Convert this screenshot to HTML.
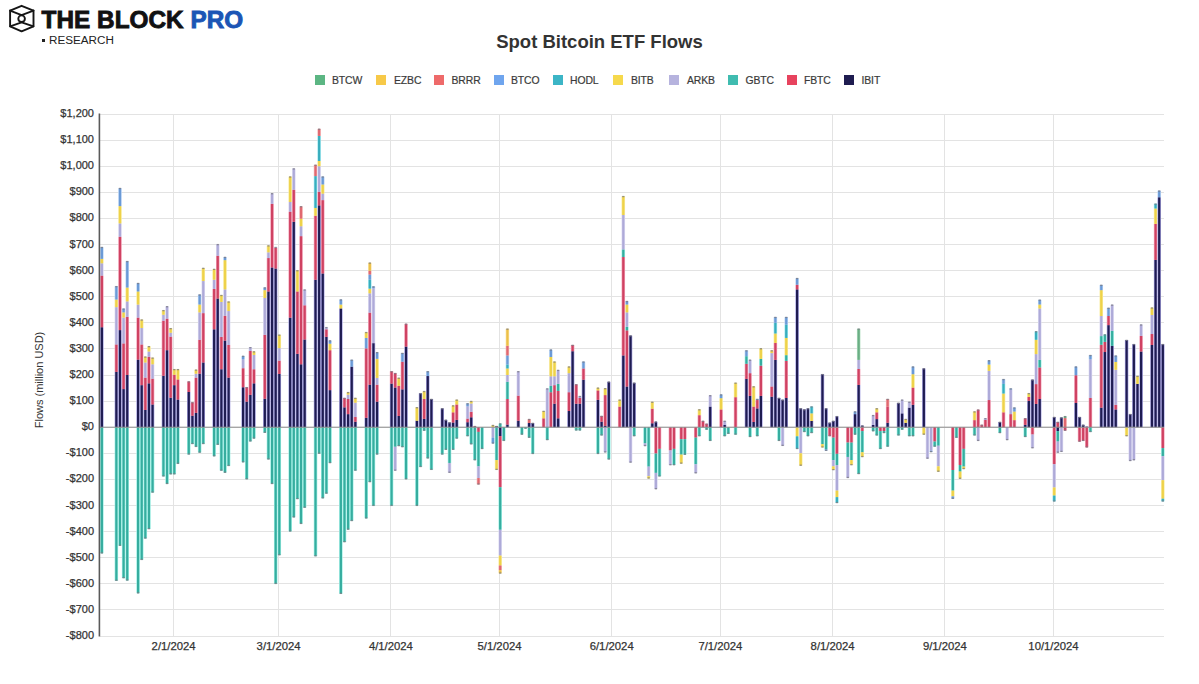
<!DOCTYPE html>
<html><head><meta charset="utf-8"><style>
html,body{margin:0;padding:0;background:#fff;}
body{width:1199px;height:684px;position:relative;overflow:hidden;font-family:"Liberation Sans",sans-serif;}
.logo{position:absolute;left:41.5px;top:5.5px;font-weight:bold;font-size:24.3px;color:#111;letter-spacing:0.05px;white-space:nowrap;-webkit-text-stroke:0.9px #111}
.logo span{color:#1c55b5;-webkit-text-stroke:0.9px #1c55b5}
.res{position:absolute;left:49px;top:33.3px;font-size:11.7px;color:#222;white-space:nowrap}
.bul{position:absolute;left:41.5px;top:39px;width:3px;height:3px;background:#222}
.title{position:absolute;left:0;width:1199px;text-align:center;top:31px;font-weight:bold;font-size:18.5px;color:#333;white-space:nowrap}
.lsq{position:absolute;top:75px;width:10.3px;height:10.3px}
.ltx{position:absolute;top:74.8px;font-size:10.4px;letter-spacing:-0.1px;color:#3a3a3a;-webkit-text-stroke:0.2px #3a3a3a;white-space:nowrap}
.yl{position:absolute;right:1105px;font-size:11px;color:#333;-webkit-text-stroke:0.25px #333;white-space:nowrap;text-align:right}
.xl{position:absolute;top:639.5px;width:80px;text-align:center;font-size:11.3px;color:#333;-webkit-text-stroke:0.25px #333;white-space:nowrap}
.ytitle{position:absolute;left:39px;top:380px;transform:translate(-50%,-50%) rotate(-90deg);font-size:11px;color:#333;white-space:nowrap}
svg{position:absolute;left:0;top:0}
</style></head><body>
<svg width="40" height="40" viewBox="0 0 40 40" style="left:0;top:0">
<g fill="none" stroke="#151515" stroke-width="1.9" stroke-linejoin="round" stroke-linecap="round">
<path d="M21.6 5.8 L33.5 10.6 L33.5 26.3 L21.6 31.3 L10.1 26.3 L10.1 10.6 Z"/>
<path d="M10.1 10.6 L21.6 15.1 L33.5 10.6 M10.1 26.3 L21.6 22.3 L33.5 26.3"/>
<circle cx="21.6" cy="18.7" r="3.3"/>
</g></svg>
<div class="logo">THE BLOCK <span>PRO</span></div>
<div class="bul"></div><div class="res">RESEARCH</div>
<div class="title">Spot Bitcoin ETF Flows</div>
<div class="lsq" style="left:315px;background:#5cb683"></div><div class="ltx" style="left:332px">BTCW</div><div class="lsq" style="left:376px;background:#f7c948"></div><div class="ltx" style="left:394px">EZBC</div><div class="lsq" style="left:434px;background:#ee6a6a"></div><div class="ltx" style="left:451.5px">BRRR</div><div class="lsq" style="left:494px;background:#6fa5ee"></div><div class="ltx" style="left:511px">BTCO</div><div class="lsq" style="left:553px;background:#3cb5c6"></div><div class="ltx" style="left:570px">HODL</div><div class="lsq" style="left:613px;background:#f6d94c"></div><div class="ltx" style="left:631px">BITB</div><div class="lsq" style="left:669px;background:#b6b3de"></div><div class="ltx" style="left:687px">ARKB</div><div class="lsq" style="left:728px;background:#40bcb0"></div><div class="ltx" style="left:745.5px">GBTC</div><div class="lsq" style="left:787px;background:#e7435e"></div><div class="ltx" style="left:804px">FBTC</div><div class="lsq" style="left:844px;background:#1f1c50"></div><div class="ltx" style="left:861.5px">IBIT</div>
<svg width="1199" height="684" viewBox="0 0 1199 684" shape-rendering="crispEdges">
<rect x="100" y="113.50" width="1064" height="1" fill="#e3e3e3"/><rect x="100" y="139.60" width="1064" height="1" fill="#e3e3e3"/><rect x="100" y="165.70" width="1064" height="1" fill="#e3e3e3"/><rect x="100" y="191.80" width="1064" height="1" fill="#e3e3e3"/><rect x="100" y="217.90" width="1064" height="1" fill="#e3e3e3"/><rect x="100" y="244.00" width="1064" height="1" fill="#e3e3e3"/><rect x="100" y="270.10" width="1064" height="1" fill="#e3e3e3"/><rect x="100" y="296.20" width="1064" height="1" fill="#e3e3e3"/><rect x="100" y="322.30" width="1064" height="1" fill="#e3e3e3"/><rect x="100" y="348.40" width="1064" height="1" fill="#e3e3e3"/><rect x="100" y="374.50" width="1064" height="1" fill="#e3e3e3"/><rect x="100" y="400.60" width="1064" height="1" fill="#e3e3e3"/><rect x="100" y="426.70" width="1064" height="1" fill="#e3e3e3"/><rect x="100" y="452.80" width="1064" height="1" fill="#e3e3e3"/><rect x="100" y="478.90" width="1064" height="1" fill="#e3e3e3"/><rect x="100" y="505.00" width="1064" height="1" fill="#e3e3e3"/><rect x="100" y="531.10" width="1064" height="1" fill="#e3e3e3"/><rect x="100" y="557.20" width="1064" height="1" fill="#e3e3e3"/><rect x="100" y="583.30" width="1064" height="1" fill="#e3e3e3"/><rect x="100" y="609.40" width="1064" height="1" fill="#e3e3e3"/><rect x="100" y="635.50" width="1064" height="1" fill="#e3e3e3"/><rect x="173.10" y="113.50" width="1" height="522.00" fill="#e3e3e3"/><rect x="278.11" y="113.50" width="1" height="522.00" fill="#e3e3e3"/><rect x="390.36" y="113.50" width="1" height="522.00" fill="#e3e3e3"/><rect x="498.99" y="113.50" width="1" height="522.00" fill="#e3e3e3"/><rect x="611.24" y="113.50" width="1" height="522.00" fill="#e3e3e3"/><rect x="719.87" y="113.50" width="1" height="522.00" fill="#e3e3e3"/><rect x="832.12" y="113.50" width="1" height="522.00" fill="#e3e3e3"/><rect x="944.37" y="113.50" width="1" height="522.00" fill="#e3e3e3"/><rect x="1053.00" y="113.50" width="1" height="522.00" fill="#e3e3e3"/>
</svg>
<svg width="1199" height="684" viewBox="0 0 1199 684">
<rect x="100.13" y="327.24" width="3.5" height="99.96" fill="#a9a5e2"/><rect x="100.13" y="275.56" width="3.5" height="51.68" fill="#f3a6bb"/><rect x="100.13" y="263.29" width="3.5" height="12.27" fill="#dddbf3"/><rect x="100.13" y="258.86" width="3.5" height="4.44" fill="#f9eca0"/><rect x="100.13" y="247.11" width="3.5" height="11.75" fill="#bcd6f6"/><rect x="100.13" y="427.20" width="3.5" height="126.06" fill="#a0f0e6"/><rect x="114.61" y="371.87" width="3.5" height="55.33" fill="#a9a5e2"/><rect x="114.61" y="344.46" width="3.5" height="27.41" fill="#f3a6bb"/><rect x="114.61" y="307.14" width="3.5" height="37.32" fill="#dddbf3"/><rect x="114.61" y="299.57" width="3.5" height="7.57" fill="#f9eca0"/><rect x="114.61" y="286.26" width="3.5" height="13.31" fill="#bcd6f6"/><rect x="114.61" y="427.20" width="3.5" height="153.47" fill="#a0f0e6"/><rect x="118.24" y="330.11" width="3.5" height="97.09" fill="#a9a5e2"/><rect x="118.24" y="236.67" width="3.5" height="93.44" fill="#f3a6bb"/><rect x="118.24" y="223.36" width="3.5" height="13.31" fill="#dddbf3"/><rect x="118.24" y="206.13" width="3.5" height="17.23" fill="#f9eca0"/><rect x="118.24" y="188.12" width="3.5" height="18.01" fill="#bcd6f6"/><rect x="118.24" y="427.20" width="3.5" height="118.49" fill="#a0f0e6"/><rect x="121.86" y="389.09" width="3.5" height="38.11" fill="#a9a5e2"/><rect x="121.86" y="343.42" width="3.5" height="45.68" fill="#f3a6bb"/><rect x="121.86" y="317.58" width="3.5" height="25.84" fill="#dddbf3"/><rect x="121.86" y="312.36" width="3.5" height="5.22" fill="#f9eca0"/><rect x="121.86" y="308.71" width="3.5" height="3.65" fill="#bcd6f6"/><rect x="121.86" y="427.20" width="3.5" height="150.86" fill="#a0f0e6"/><rect x="125.48" y="375.00" width="3.5" height="52.20" fill="#a9a5e2"/><rect x="125.48" y="316.80" width="3.5" height="58.20" fill="#f3a6bb"/><rect x="125.48" y="301.40" width="3.5" height="15.40" fill="#dddbf3"/><rect x="125.48" y="287.56" width="3.5" height="13.83" fill="#f9eca0"/><rect x="125.48" y="261.20" width="3.5" height="26.36" fill="#bcd6f6"/><rect x="125.48" y="427.20" width="3.5" height="153.21" fill="#a0f0e6"/><rect x="136.34" y="359.60" width="3.5" height="67.60" fill="#a9a5e2"/><rect x="136.34" y="317.58" width="3.5" height="42.02" fill="#f3a6bb"/><rect x="136.34" y="304.53" width="3.5" height="13.05" fill="#dddbf3"/><rect x="136.34" y="291.48" width="3.5" height="13.05" fill="#f9eca0"/><rect x="136.34" y="283.13" width="3.5" height="8.35" fill="#bcd6f6"/><rect x="136.34" y="427.20" width="3.5" height="166.00" fill="#a0f0e6"/><rect x="139.96" y="385.18" width="3.5" height="42.02" fill="#a9a5e2"/><rect x="139.96" y="344.46" width="3.5" height="40.72" fill="#f3a6bb"/><rect x="139.96" y="328.02" width="3.5" height="16.44" fill="#dddbf3"/><rect x="139.96" y="319.67" width="3.5" height="8.35" fill="#f9eca0"/><rect x="139.96" y="427.20" width="3.5" height="132.59" fill="#a0f0e6"/><rect x="143.58" y="409.97" width="3.5" height="17.23" fill="#a9a5e2"/><rect x="143.58" y="377.61" width="3.5" height="32.36" fill="#f3a6bb"/><rect x="143.58" y="362.47" width="3.5" height="15.14" fill="#dddbf3"/><rect x="143.58" y="356.73" width="3.5" height="5.74" fill="#f9eca0"/><rect x="143.58" y="427.20" width="3.5" height="111.19" fill="#a0f0e6"/><rect x="147.20" y="383.35" width="3.5" height="43.85" fill="#a9a5e2"/><rect x="147.20" y="356.73" width="3.5" height="26.62" fill="#f3a6bb"/><rect x="147.20" y="351.51" width="3.5" height="5.22" fill="#dddbf3"/><rect x="147.20" y="346.29" width="3.5" height="5.22" fill="#f9eca0"/><rect x="147.20" y="427.20" width="3.5" height="101.79" fill="#a0f0e6"/><rect x="150.82" y="404.49" width="3.5" height="22.71" fill="#a9a5e2"/><rect x="150.82" y="378.65" width="3.5" height="25.84" fill="#f3a6bb"/><rect x="150.82" y="364.30" width="3.5" height="14.36" fill="#dddbf3"/><rect x="150.82" y="357.77" width="3.5" height="6.52" fill="#f9eca0"/><rect x="150.82" y="427.20" width="3.5" height="65.25" fill="#a0f0e6"/><rect x="161.69" y="375.78" width="3.5" height="51.42" fill="#a9a5e2"/><rect x="161.69" y="320.71" width="3.5" height="55.07" fill="#f3a6bb"/><rect x="161.69" y="314.71" width="3.5" height="6.00" fill="#dddbf3"/><rect x="161.69" y="310.27" width="3.5" height="4.44" fill="#f9eca0"/><rect x="161.69" y="427.20" width="3.5" height="49.07" fill="#a0f0e6"/><rect x="165.31" y="350.20" width="3.5" height="77.00" fill="#a9a5e2"/><rect x="165.31" y="318.62" width="3.5" height="31.58" fill="#f3a6bb"/><rect x="165.31" y="306.36" width="3.5" height="12.27" fill="#dddbf3"/><rect x="165.31" y="427.20" width="3.5" height="56.64" fill="#a0f0e6"/><rect x="168.93" y="397.71" width="3.5" height="29.49" fill="#a9a5e2"/><rect x="168.93" y="336.63" width="3.5" height="61.07" fill="#f3a6bb"/><rect x="168.93" y="332.72" width="3.5" height="3.92" fill="#dddbf3"/><rect x="168.93" y="328.28" width="3.5" height="4.44" fill="#f9eca0"/><rect x="168.93" y="427.20" width="3.5" height="46.98" fill="#a0f0e6"/><rect x="172.55" y="385.18" width="3.5" height="42.02" fill="#a9a5e2"/><rect x="172.55" y="374.74" width="3.5" height="10.44" fill="#f3a6bb"/><rect x="172.55" y="369.26" width="3.5" height="5.48" fill="#f9eca0"/><rect x="172.55" y="427.20" width="3.5" height="46.98" fill="#a0f0e6"/><rect x="176.17" y="399.53" width="3.5" height="27.67" fill="#a9a5e2"/><rect x="176.17" y="379.44" width="3.5" height="20.10" fill="#f3a6bb"/><rect x="176.17" y="369.26" width="3.5" height="10.18" fill="#f9eca0"/><rect x="176.17" y="427.20" width="3.5" height="36.54" fill="#a0f0e6"/><rect x="187.03" y="391.96" width="3.5" height="35.24" fill="#a9a5e2"/><rect x="187.03" y="381.52" width="3.5" height="10.44" fill="#f3a6bb"/><rect x="187.03" y="427.20" width="3.5" height="27.14" fill="#a0f0e6"/><rect x="190.66" y="415.72" width="3.5" height="11.48" fill="#a9a5e2"/><rect x="190.66" y="402.40" width="3.5" height="13.31" fill="#f3a6bb"/><rect x="190.66" y="427.20" width="3.5" height="16.70" fill="#a0f0e6"/><rect x="194.28" y="412.84" width="3.5" height="14.36" fill="#a9a5e2"/><rect x="194.28" y="377.61" width="3.5" height="35.23" fill="#f3a6bb"/><rect x="194.28" y="373.69" width="3.5" height="3.92" fill="#dddbf3"/><rect x="194.28" y="369.78" width="3.5" height="3.92" fill="#f9eca0"/><rect x="194.28" y="427.20" width="3.5" height="19.57" fill="#a0f0e6"/><rect x="197.90" y="373.69" width="3.5" height="53.50" fill="#a9a5e2"/><rect x="197.90" y="339.76" width="3.5" height="33.93" fill="#f3a6bb"/><rect x="197.90" y="312.36" width="3.5" height="27.40" fill="#dddbf3"/><rect x="197.90" y="304.53" width="3.5" height="7.83" fill="#f9eca0"/><rect x="197.90" y="294.61" width="3.5" height="9.92" fill="#bcd6f6"/><rect x="197.90" y="427.20" width="3.5" height="25.32" fill="#a0f0e6"/><rect x="201.52" y="362.47" width="3.5" height="64.73" fill="#a9a5e2"/><rect x="201.52" y="313.14" width="3.5" height="49.33" fill="#f3a6bb"/><rect x="201.52" y="281.04" width="3.5" height="32.10" fill="#dddbf3"/><rect x="201.52" y="267.99" width="3.5" height="13.05" fill="#f9eca0"/><rect x="201.52" y="427.20" width="3.5" height="16.70" fill="#a0f0e6"/><rect x="212.38" y="329.32" width="3.5" height="97.88" fill="#a9a5e2"/><rect x="212.38" y="288.87" width="3.5" height="40.45" fill="#f3a6bb"/><rect x="212.38" y="279.74" width="3.5" height="9.13" fill="#dddbf3"/><rect x="212.38" y="269.03" width="3.5" height="10.70" fill="#f9eca0"/><rect x="212.38" y="427.20" width="3.5" height="28.97" fill="#a0f0e6"/><rect x="216.00" y="298.53" width="3.5" height="128.67" fill="#a9a5e2"/><rect x="216.00" y="255.72" width="3.5" height="42.80" fill="#f3a6bb"/><rect x="216.00" y="244.24" width="3.5" height="11.48" fill="#dddbf3"/><rect x="216.00" y="427.20" width="3.5" height="17.49" fill="#a0f0e6"/><rect x="219.62" y="369.26" width="3.5" height="57.94" fill="#a9a5e2"/><rect x="219.62" y="336.89" width="3.5" height="32.36" fill="#f3a6bb"/><rect x="219.62" y="301.92" width="3.5" height="34.97" fill="#dddbf3"/><rect x="219.62" y="295.13" width="3.5" height="6.79" fill="#f9eca0"/><rect x="219.62" y="427.20" width="3.5" height="43.33" fill="#a0f0e6"/><rect x="223.24" y="340.55" width="3.5" height="86.65" fill="#a9a5e2"/><rect x="223.24" y="315.75" width="3.5" height="24.80" fill="#f3a6bb"/><rect x="223.24" y="289.39" width="3.5" height="26.36" fill="#dddbf3"/><rect x="223.24" y="260.16" width="3.5" height="29.23" fill="#f9eca0"/><rect x="223.24" y="257.03" width="3.5" height="3.13" fill="#bcd6f6"/><rect x="223.24" y="427.20" width="3.5" height="45.41" fill="#a0f0e6"/><rect x="226.87" y="377.61" width="3.5" height="49.59" fill="#a9a5e2"/><rect x="226.87" y="344.99" width="3.5" height="32.62" fill="#f3a6bb"/><rect x="226.87" y="311.05" width="3.5" height="33.93" fill="#dddbf3"/><rect x="226.87" y="301.66" width="3.5" height="9.40" fill="#f9eca0"/><rect x="226.87" y="427.20" width="3.5" height="38.63" fill="#a0f0e6"/><rect x="241.35" y="387.27" width="3.5" height="39.93" fill="#a9a5e2"/><rect x="241.35" y="368.21" width="3.5" height="19.05" fill="#f3a6bb"/><rect x="241.35" y="359.34" width="3.5" height="8.87" fill="#dddbf3"/><rect x="241.35" y="355.95" width="3.5" height="3.39" fill="#bcd6f6"/><rect x="241.35" y="427.20" width="3.5" height="34.97" fill="#a0f0e6"/><rect x="244.97" y="401.62" width="3.5" height="25.58" fill="#a9a5e2"/><rect x="244.97" y="387.27" width="3.5" height="14.36" fill="#f3a6bb"/><rect x="244.97" y="427.20" width="3.5" height="51.94" fill="#a0f0e6"/><rect x="248.59" y="394.84" width="3.5" height="32.36" fill="#a9a5e2"/><rect x="248.59" y="350.99" width="3.5" height="43.85" fill="#f3a6bb"/><rect x="248.59" y="347.33" width="3.5" height="3.65" fill="#dddbf3"/><rect x="248.59" y="427.20" width="3.5" height="14.09" fill="#a0f0e6"/><rect x="252.21" y="383.35" width="3.5" height="43.85" fill="#a9a5e2"/><rect x="252.21" y="369.26" width="3.5" height="14.09" fill="#f3a6bb"/><rect x="252.21" y="354.90" width="3.5" height="14.35" fill="#dddbf3"/><rect x="252.21" y="351.51" width="3.5" height="3.39" fill="#f9eca0"/><rect x="252.21" y="427.20" width="3.5" height="11.22" fill="#a0f0e6"/><rect x="263.08" y="398.75" width="3.5" height="28.45" fill="#a9a5e2"/><rect x="263.08" y="334.81" width="3.5" height="63.94" fill="#f3a6bb"/><rect x="263.08" y="298.00" width="3.5" height="36.80" fill="#dddbf3"/><rect x="263.08" y="290.17" width="3.5" height="7.83" fill="#f9eca0"/><rect x="263.08" y="287.56" width="3.5" height="2.61" fill="#bcd6f6"/><rect x="263.08" y="427.20" width="3.5" height="5.48" fill="#a0f0e6"/><rect x="266.70" y="291.48" width="3.5" height="135.72" fill="#a9a5e2"/><rect x="266.70" y="258.07" width="3.5" height="33.41" fill="#f3a6bb"/><rect x="266.70" y="252.33" width="3.5" height="5.74" fill="#dddbf3"/><rect x="266.70" y="245.54" width="3.5" height="6.79" fill="#f9eca0"/><rect x="266.70" y="427.20" width="3.5" height="32.10" fill="#a0f0e6"/><rect x="270.32" y="267.47" width="3.5" height="159.73" fill="#a9a5e2"/><rect x="270.32" y="203.78" width="3.5" height="63.68" fill="#f3a6bb"/><rect x="270.32" y="193.34" width="3.5" height="10.44" fill="#dddbf3"/><rect x="270.32" y="427.20" width="3.5" height="56.64" fill="#a0f0e6"/><rect x="273.94" y="268.51" width="3.5" height="158.69" fill="#a9a5e2"/><rect x="273.94" y="247.63" width="3.5" height="20.88" fill="#f3a6bb"/><rect x="273.94" y="247.11" width="3.5" height="0.52" fill="#dddbf3"/><rect x="273.94" y="427.20" width="3.5" height="156.60" fill="#a0f0e6"/><rect x="277.56" y="373.96" width="3.5" height="53.24" fill="#a9a5e2"/><rect x="277.56" y="360.64" width="3.5" height="13.31" fill="#f3a6bb"/><rect x="277.56" y="348.12" width="3.5" height="12.53" fill="#dddbf3"/><rect x="277.56" y="334.81" width="3.5" height="13.31" fill="#f9eca0"/><rect x="277.56" y="427.20" width="3.5" height="127.89" fill="#a0f0e6"/><rect x="288.42" y="317.58" width="3.5" height="109.62" fill="#a9a5e2"/><rect x="288.42" y="211.61" width="3.5" height="105.97" fill="#f3a6bb"/><rect x="288.42" y="201.96" width="3.5" height="9.66" fill="#dddbf3"/><rect x="288.42" y="176.64" width="3.5" height="25.32" fill="#f9eca0"/><rect x="288.42" y="427.20" width="3.5" height="104.14" fill="#a0f0e6"/><rect x="292.04" y="221.79" width="3.5" height="205.41" fill="#a9a5e2"/><rect x="292.04" y="189.69" width="3.5" height="32.10" fill="#f3a6bb"/><rect x="292.04" y="168.55" width="3.5" height="21.14" fill="#dddbf3"/><rect x="292.04" y="427.20" width="3.5" height="90.05" fill="#a0f0e6"/><rect x="295.66" y="353.86" width="3.5" height="73.34" fill="#a9a5e2"/><rect x="295.66" y="291.48" width="3.5" height="62.38" fill="#f3a6bb"/><rect x="295.66" y="270.34" width="3.5" height="21.14" fill="#f9eca0"/><rect x="295.66" y="427.20" width="3.5" height="71.78" fill="#a0f0e6"/><rect x="299.29" y="364.30" width="3.5" height="62.90" fill="#a9a5e2"/><rect x="299.29" y="236.15" width="3.5" height="128.15" fill="#f3a6bb"/><rect x="299.29" y="226.23" width="3.5" height="9.92" fill="#dddbf3"/><rect x="299.29" y="218.66" width="3.5" height="7.57" fill="#f9eca0"/><rect x="299.29" y="206.39" width="3.5" height="12.27" fill="#f5b8b8"/><rect x="299.29" y="427.20" width="3.5" height="96.57" fill="#a0f0e6"/><rect x="302.91" y="339.50" width="3.5" height="87.70" fill="#a9a5e2"/><rect x="302.91" y="305.31" width="3.5" height="34.19" fill="#f3a6bb"/><rect x="302.91" y="289.65" width="3.5" height="15.66" fill="#dddbf3"/><rect x="302.91" y="427.20" width="3.5" height="80.39" fill="#a0f0e6"/><rect x="313.77" y="279.74" width="3.5" height="147.46" fill="#a9a5e2"/><rect x="313.77" y="215.79" width="3.5" height="63.95" fill="#f3a6bb"/><rect x="313.77" y="207.96" width="3.5" height="7.83" fill="#f9eca0"/><rect x="313.77" y="176.12" width="3.5" height="31.84" fill="#a0e8f0"/><rect x="313.77" y="164.89" width="3.5" height="11.22" fill="#f5b8b8"/><rect x="313.77" y="427.20" width="3.5" height="128.93" fill="#a0f0e6"/><rect x="317.39" y="205.35" width="3.5" height="221.85" fill="#a9a5e2"/><rect x="317.39" y="191.78" width="3.5" height="13.57" fill="#f3a6bb"/><rect x="317.39" y="166.20" width="3.5" height="25.58" fill="#dddbf3"/><rect x="317.39" y="160.98" width="3.5" height="5.22" fill="#f9eca0"/><rect x="317.39" y="135.92" width="3.5" height="25.06" fill="#a0e8f0"/><rect x="317.39" y="128.88" width="3.5" height="7.05" fill="#f5b8b8"/><rect x="317.39" y="427.20" width="3.5" height="26.36" fill="#a0f0e6"/><rect x="321.01" y="273.47" width="3.5" height="153.73" fill="#a9a5e2"/><rect x="321.01" y="200.13" width="3.5" height="73.34" fill="#f3a6bb"/><rect x="321.01" y="193.60" width="3.5" height="6.52" fill="#dddbf3"/><rect x="321.01" y="184.47" width="3.5" height="9.14" fill="#f9eca0"/><rect x="321.01" y="176.64" width="3.5" height="7.83" fill="#bcd6f6"/><rect x="321.01" y="427.20" width="3.5" height="70.99" fill="#a0f0e6"/><rect x="324.63" y="336.89" width="3.5" height="90.31" fill="#a9a5e2"/><rect x="324.63" y="329.32" width="3.5" height="7.57" fill="#f3a6bb"/><rect x="324.63" y="327.24" width="3.5" height="2.09" fill="#dddbf3"/><rect x="324.63" y="427.20" width="3.5" height="66.29" fill="#a0f0e6"/><rect x="328.25" y="390.14" width="3.5" height="37.06" fill="#a9a5e2"/><rect x="328.25" y="350.20" width="3.5" height="39.93" fill="#f3a6bb"/><rect x="328.25" y="343.68" width="3.5" height="6.53" fill="#f9eca0"/><rect x="328.25" y="340.55" width="3.5" height="3.13" fill="#bcd6f6"/><rect x="328.25" y="427.20" width="3.5" height="35.76" fill="#a0f0e6"/><rect x="339.12" y="308.44" width="3.5" height="118.75" fill="#a9a5e2"/><rect x="339.12" y="304.53" width="3.5" height="3.92" fill="#f9eca0"/><rect x="339.12" y="299.57" width="3.5" height="4.96" fill="#bcd6f6"/><rect x="339.12" y="427.20" width="3.5" height="166.52" fill="#a0f0e6"/><rect x="342.74" y="407.36" width="3.5" height="19.84" fill="#a9a5e2"/><rect x="342.74" y="397.97" width="3.5" height="9.40" fill="#f3a6bb"/><rect x="342.74" y="427.20" width="3.5" height="114.84" fill="#a0f0e6"/><rect x="346.36" y="414.15" width="3.5" height="13.05" fill="#a9a5e2"/><rect x="346.36" y="399.01" width="3.5" height="15.14" fill="#f3a6bb"/><rect x="346.36" y="394.57" width="3.5" height="4.44" fill="#dddbf3"/><rect x="346.36" y="392.23" width="3.5" height="2.35" fill="#f9eca0"/><rect x="346.36" y="427.20" width="3.5" height="102.31" fill="#a0f0e6"/><rect x="349.98" y="366.65" width="3.5" height="60.55" fill="#a9a5e2"/><rect x="349.98" y="359.86" width="3.5" height="6.79" fill="#bcd6f6"/><rect x="349.98" y="427.20" width="3.5" height="93.70" fill="#a0f0e6"/><rect x="353.60" y="421.72" width="3.5" height="5.48" fill="#a9a5e2"/><rect x="353.60" y="417.02" width="3.5" height="4.70" fill="#f3a6bb"/><rect x="353.60" y="402.67" width="3.5" height="14.36" fill="#dddbf3"/><rect x="353.60" y="397.97" width="3.5" height="4.70" fill="#f9eca0"/><rect x="353.60" y="427.20" width="3.5" height="43.33" fill="#a0f0e6"/><rect x="364.46" y="417.80" width="3.5" height="9.40" fill="#a9a5e2"/><rect x="364.46" y="348.38" width="3.5" height="69.43" fill="#f3a6bb"/><rect x="364.46" y="337.94" width="3.5" height="10.44" fill="#bcd6f6"/><rect x="364.46" y="332.20" width="3.5" height="5.74" fill="#f9eca0"/><rect x="364.46" y="427.20" width="3.5" height="91.09" fill="#a0f0e6"/><rect x="368.08" y="384.66" width="3.5" height="42.54" fill="#a9a5e2"/><rect x="368.08" y="312.62" width="3.5" height="72.04" fill="#f3a6bb"/><rect x="368.08" y="293.31" width="3.5" height="19.31" fill="#dddbf3"/><rect x="368.08" y="288.61" width="3.5" height="4.70" fill="#f9eca0"/><rect x="368.08" y="279.74" width="3.5" height="8.87" fill="#a0e8f0"/><rect x="368.08" y="274.51" width="3.5" height="5.22" fill="#bcd6f6"/><rect x="368.08" y="270.60" width="3.5" height="3.91" fill="#f5b8b8"/><rect x="368.08" y="262.77" width="3.5" height="7.83" fill="#fae3a0"/><rect x="368.08" y="427.20" width="3.5" height="54.81" fill="#a0f0e6"/><rect x="371.71" y="343.16" width="3.5" height="84.04" fill="#a9a5e2"/><rect x="371.71" y="288.35" width="3.5" height="54.81" fill="#dddbf3"/><rect x="371.71" y="286.52" width="3.5" height="1.83" fill="#bcd6f6"/><rect x="371.71" y="427.20" width="3.5" height="78.56" fill="#a0f0e6"/><rect x="375.33" y="401.62" width="3.5" height="25.58" fill="#a9a5e2"/><rect x="375.33" y="384.66" width="3.5" height="16.97" fill="#f3a6bb"/><rect x="375.33" y="377.87" width="3.5" height="6.79" fill="#dddbf3"/><rect x="375.33" y="358.82" width="3.5" height="19.05" fill="#f9eca0"/><rect x="375.33" y="352.29" width="3.5" height="6.52" fill="#bcd6f6"/><rect x="375.33" y="427.20" width="3.5" height="27.14" fill="#a0f0e6"/><rect x="389.81" y="383.61" width="3.5" height="43.59" fill="#a9a5e2"/><rect x="389.81" y="371.35" width="3.5" height="12.27" fill="#f3a6bb"/><rect x="389.81" y="427.20" width="3.5" height="78.56" fill="#a0f0e6"/><rect x="393.43" y="387.53" width="3.5" height="39.67" fill="#a9a5e2"/><rect x="393.43" y="373.17" width="3.5" height="14.35" fill="#f3a6bb"/><rect x="393.43" y="427.20" width="3.5" height="19.57" fill="#a0f0e6"/><rect x="393.43" y="446.77" width="3.5" height="23.75" fill="#dddbf3"/><rect x="397.05" y="415.98" width="3.5" height="11.22" fill="#a9a5e2"/><rect x="397.05" y="385.70" width="3.5" height="30.28" fill="#f3a6bb"/><rect x="397.05" y="377.87" width="3.5" height="7.83" fill="#f9eca0"/><rect x="397.05" y="427.20" width="3.5" height="18.79" fill="#a0f0e6"/><rect x="400.67" y="389.36" width="3.5" height="37.84" fill="#a9a5e2"/><rect x="400.67" y="361.69" width="3.5" height="27.67" fill="#f3a6bb"/><rect x="400.67" y="353.08" width="3.5" height="8.61" fill="#bcd6f6"/><rect x="400.67" y="427.20" width="3.5" height="19.84" fill="#a0f0e6"/><rect x="404.29" y="346.55" width="3.5" height="80.65" fill="#a9a5e2"/><rect x="404.29" y="323.84" width="3.5" height="22.71" fill="#f3a6bb"/><rect x="404.29" y="427.20" width="3.5" height="51.94" fill="#a0f0e6"/><rect x="415.16" y="420.68" width="3.5" height="6.52" fill="#a9a5e2"/><rect x="415.16" y="407.36" width="3.5" height="13.31" fill="#f9eca0"/><rect x="415.16" y="427.20" width="3.5" height="78.56" fill="#a0f0e6"/><rect x="418.78" y="393.27" width="3.5" height="33.93" fill="#a9a5e2"/><rect x="418.78" y="427.20" width="3.5" height="39.67" fill="#a0f0e6"/><rect x="422.40" y="418.85" width="3.5" height="8.35" fill="#a9a5e2"/><rect x="422.40" y="399.01" width="3.5" height="19.84" fill="#f3a6bb"/><rect x="422.40" y="391.18" width="3.5" height="7.83" fill="#f9eca0"/><rect x="422.40" y="427.20" width="3.5" height="3.39" fill="#a0f0e6"/><rect x="426.02" y="376.04" width="3.5" height="51.16" fill="#a9a5e2"/><rect x="426.02" y="371.35" width="3.5" height="4.70" fill="#bcd6f6"/><rect x="426.02" y="427.20" width="3.5" height="31.06" fill="#a0f0e6"/><rect x="429.64" y="399.01" width="3.5" height="28.19" fill="#a9a5e2"/><rect x="429.64" y="427.20" width="3.5" height="42.54" fill="#a0f0e6"/><rect x="440.50" y="408.41" width="3.5" height="18.79" fill="#a9a5e2"/><rect x="440.50" y="427.20" width="3.5" height="27.14" fill="#a0f0e6"/><rect x="444.12" y="419.89" width="3.5" height="7.31" fill="#a9a5e2"/><rect x="444.12" y="427.20" width="3.5" height="22.45" fill="#a0f0e6"/><rect x="447.75" y="422.50" width="3.5" height="4.70" fill="#a9a5e2"/><rect x="447.75" y="427.20" width="3.5" height="35.76" fill="#a0f0e6"/><rect x="447.75" y="462.96" width="3.5" height="9.66" fill="#dddbf3"/><rect x="451.37" y="422.50" width="3.5" height="4.70" fill="#a9a5e2"/><rect x="451.37" y="412.32" width="3.5" height="10.18" fill="#f3a6bb"/><rect x="451.37" y="405.54" width="3.5" height="6.79" fill="#f9eca0"/><rect x="451.37" y="427.20" width="3.5" height="22.45" fill="#a0f0e6"/><rect x="454.99" y="419.89" width="3.5" height="7.31" fill="#a9a5e2"/><rect x="454.99" y="404.49" width="3.5" height="15.40" fill="#f3a6bb"/><rect x="454.99" y="399.79" width="3.5" height="4.70" fill="#f9eca0"/><rect x="454.99" y="427.20" width="3.5" height="11.22" fill="#a0f0e6"/><rect x="465.85" y="422.24" width="3.5" height="4.96" fill="#a9a5e2"/><rect x="465.85" y="418.59" width="3.5" height="3.65" fill="#f3a6bb"/><rect x="465.85" y="406.32" width="3.5" height="12.27" fill="#dddbf3"/><rect x="465.85" y="403.45" width="3.5" height="2.87" fill="#bcd6f6"/><rect x="465.85" y="427.20" width="3.5" height="8.87" fill="#a0f0e6"/><rect x="469.47" y="417.28" width="3.5" height="9.92" fill="#a9a5e2"/><rect x="469.47" y="411.80" width="3.5" height="5.48" fill="#f3a6bb"/><rect x="469.47" y="403.45" width="3.5" height="8.35" fill="#dddbf3"/><rect x="469.47" y="401.10" width="3.5" height="2.35" fill="#f9eca0"/><rect x="469.47" y="427.20" width="3.5" height="16.96" fill="#a0f0e6"/><rect x="473.09" y="426.16" width="3.5" height="1.04" fill="#f3a6bb"/><rect x="473.09" y="427.20" width="3.5" height="32.89" fill="#a0f0e6"/><rect x="476.71" y="427.20" width="3.5" height="4.70" fill="#f3a6bb"/><rect x="476.71" y="431.90" width="3.5" height="34.45" fill="#a0f0e6"/><rect x="476.71" y="466.35" width="3.5" height="11.75" fill="#dddbf3"/><rect x="476.71" y="478.09" width="3.5" height="6.26" fill="#f5b8b8"/><rect x="480.34" y="427.20" width="3.5" height="21.66" fill="#a0f0e6"/><rect x="491.20" y="425.11" width="3.5" height="2.09" fill="#f9eca0"/><rect x="491.20" y="427.20" width="3.5" height="10.44" fill="#dddbf3"/><rect x="491.20" y="437.64" width="3.5" height="5.74" fill="#bcd6f6"/><rect x="494.82" y="426.16" width="3.5" height="1.04" fill="#a9a5e2"/><rect x="494.82" y="427.20" width="3.5" height="32.89" fill="#a0f0e6"/><rect x="494.82" y="460.09" width="3.5" height="9.66" fill="#f9eca0"/><rect x="498.44" y="423.55" width="3.5" height="3.65" fill="#a0f0e6"/><rect x="498.44" y="427.20" width="3.5" height="8.87" fill="#a9a5e2"/><rect x="498.44" y="436.07" width="3.5" height="51.16" fill="#f3a6bb"/><rect x="498.44" y="487.23" width="3.5" height="42.54" fill="#a0f0e6"/><rect x="498.44" y="529.77" width="3.5" height="25.84" fill="#dddbf3"/><rect x="498.44" y="555.61" width="3.5" height="9.92" fill="#f9eca0"/><rect x="498.44" y="565.53" width="3.5" height="4.70" fill="#f5b8b8"/><rect x="498.44" y="570.23" width="3.5" height="3.13" fill="#fae3a0"/><rect x="502.06" y="427.20" width="3.5" height="13.57" fill="#a0f0e6"/><rect x="505.68" y="424.59" width="3.5" height="2.61" fill="#a9a5e2"/><rect x="505.68" y="399.01" width="3.5" height="25.58" fill="#f3a6bb"/><rect x="505.68" y="381.79" width="3.5" height="17.23" fill="#a0f0e6"/><rect x="505.68" y="375.00" width="3.5" height="6.79" fill="#dddbf3"/><rect x="505.68" y="368.47" width="3.5" height="6.53" fill="#f9eca0"/><rect x="505.68" y="364.56" width="3.5" height="3.91" fill="#a0e8f0"/><rect x="505.68" y="355.42" width="3.5" height="9.14" fill="#bcd6f6"/><rect x="505.68" y="345.77" width="3.5" height="9.66" fill="#f5b8b8"/><rect x="505.68" y="328.80" width="3.5" height="16.96" fill="#fae3a0"/><rect x="516.55" y="420.68" width="3.5" height="6.52" fill="#a9a5e2"/><rect x="516.55" y="395.62" width="3.5" height="25.06" fill="#f3a6bb"/><rect x="516.55" y="371.35" width="3.5" height="24.27" fill="#dddbf3"/><rect x="520.17" y="427.20" width="3.5" height="7.31" fill="#a0f0e6"/><rect x="523.79" y="427.20" width="3.5" height="1.31" fill="#a0f0e6"/><rect x="527.41" y="423.02" width="3.5" height="4.18" fill="#a9a5e2"/><rect x="527.41" y="419.11" width="3.5" height="3.92" fill="#f5b8b8"/><rect x="527.41" y="427.20" width="3.5" height="10.44" fill="#a0f0e6"/><rect x="531.03" y="423.02" width="3.5" height="4.18" fill="#a9a5e2"/><rect x="531.03" y="427.20" width="3.5" height="26.62" fill="#a0f0e6"/><rect x="541.89" y="418.33" width="3.5" height="8.87" fill="#f3a6bb"/><rect x="541.89" y="411.02" width="3.5" height="7.31" fill="#f9eca0"/><rect x="545.51" y="388.57" width="3.5" height="38.63" fill="#dddbf3"/><rect x="545.51" y="427.20" width="3.5" height="12.79" fill="#a0f0e6"/><rect x="549.13" y="392.23" width="3.5" height="34.97" fill="#f3a6bb"/><rect x="549.13" y="385.96" width="3.5" height="6.26" fill="#a0f0e6"/><rect x="549.13" y="376.31" width="3.5" height="9.66" fill="#dddbf3"/><rect x="549.13" y="356.99" width="3.5" height="19.31" fill="#f9eca0"/><rect x="549.13" y="349.68" width="3.5" height="7.31" fill="#bcd6f6"/><rect x="552.75" y="403.71" width="3.5" height="23.49" fill="#a9a5e2"/><rect x="552.75" y="385.18" width="3.5" height="18.53" fill="#f3a6bb"/><rect x="552.75" y="376.31" width="3.5" height="8.87" fill="#dddbf3"/><rect x="552.75" y="361.69" width="3.5" height="14.62" fill="#f9eca0"/><rect x="556.38" y="418.33" width="3.5" height="8.87" fill="#a9a5e2"/><rect x="556.38" y="390.92" width="3.5" height="27.40" fill="#f3a6bb"/><rect x="556.38" y="383.87" width="3.5" height="7.05" fill="#a0f0e6"/><rect x="556.38" y="370.04" width="3.5" height="13.83" fill="#dddbf3"/><rect x="567.24" y="411.02" width="3.5" height="16.18" fill="#a9a5e2"/><rect x="567.24" y="392.23" width="3.5" height="18.79" fill="#f3a6bb"/><rect x="567.24" y="373.17" width="3.5" height="19.05" fill="#dddbf3"/><rect x="567.24" y="366.65" width="3.5" height="6.53" fill="#f9eca0"/><rect x="570.86" y="351.25" width="3.5" height="75.95" fill="#a9a5e2"/><rect x="570.86" y="344.99" width="3.5" height="6.26" fill="#f3a6bb"/><rect x="574.48" y="403.71" width="3.5" height="23.49" fill="#a9a5e2"/><rect x="574.48" y="384.40" width="3.5" height="19.31" fill="#f3a6bb"/><rect x="574.48" y="427.20" width="3.5" height="3.13" fill="#a0f0e6"/><rect x="578.10" y="403.71" width="3.5" height="23.49" fill="#a9a5e2"/><rect x="578.10" y="397.97" width="3.5" height="5.74" fill="#f3a6bb"/><rect x="578.10" y="396.14" width="3.5" height="1.83" fill="#dddbf3"/><rect x="578.10" y="427.20" width="3.5" height="3.13" fill="#a0f0e6"/><rect x="581.72" y="379.70" width="3.5" height="47.50" fill="#a9a5e2"/><rect x="581.72" y="368.47" width="3.5" height="11.22" fill="#f3a6bb"/><rect x="581.72" y="361.69" width="3.5" height="6.79" fill="#bcd6f6"/><rect x="596.21" y="399.79" width="3.5" height="27.41" fill="#a9a5e2"/><rect x="596.21" y="390.40" width="3.5" height="9.40" fill="#f3a6bb"/><rect x="596.21" y="387.79" width="3.5" height="2.61" fill="#f9eca0"/><rect x="596.21" y="427.20" width="3.5" height="26.62" fill="#a0f0e6"/><rect x="599.83" y="421.72" width="3.5" height="5.48" fill="#a9a5e2"/><rect x="599.83" y="415.98" width="3.5" height="5.74" fill="#f3a6bb"/><rect x="599.83" y="427.20" width="3.5" height="8.09" fill="#a0f0e6"/><rect x="603.45" y="425.89" width="3.5" height="1.31" fill="#a9a5e2"/><rect x="603.45" y="395.10" width="3.5" height="30.80" fill="#f3a6bb"/><rect x="603.45" y="388.31" width="3.5" height="6.79" fill="#f9eca0"/><rect x="603.45" y="427.20" width="3.5" height="25.06" fill="#dddbf3"/><rect x="607.07" y="381.79" width="3.5" height="45.41" fill="#a9a5e2"/><rect x="607.07" y="427.20" width="3.5" height="32.10" fill="#a0f0e6"/><rect x="617.93" y="406.58" width="3.5" height="20.62" fill="#f3a6bb"/><rect x="617.93" y="399.79" width="3.5" height="6.79" fill="#f9eca0"/><rect x="621.55" y="355.42" width="3.5" height="71.78" fill="#a9a5e2"/><rect x="621.55" y="257.03" width="3.5" height="98.40" fill="#f3a6bb"/><rect x="621.55" y="249.46" width="3.5" height="7.57" fill="#a0f0e6"/><rect x="621.55" y="215.01" width="3.5" height="34.45" fill="#dddbf3"/><rect x="621.55" y="196.21" width="3.5" height="18.79" fill="#f9eca0"/><rect x="625.17" y="386.48" width="3.5" height="40.72" fill="#a9a5e2"/><rect x="625.17" y="330.37" width="3.5" height="56.12" fill="#f3a6bb"/><rect x="625.17" y="326.71" width="3.5" height="3.65" fill="#a0f0e6"/><rect x="625.17" y="312.36" width="3.5" height="14.35" fill="#dddbf3"/><rect x="625.17" y="304.53" width="3.5" height="7.83" fill="#f9eca0"/><rect x="625.17" y="301.14" width="3.5" height="3.39" fill="#bcd6f6"/><rect x="628.80" y="335.59" width="3.5" height="91.61" fill="#a9a5e2"/><rect x="628.80" y="427.20" width="3.5" height="35.24" fill="#dddbf3"/><rect x="632.42" y="382.83" width="3.5" height="44.37" fill="#a9a5e2"/><rect x="632.42" y="427.20" width="3.5" height="8.87" fill="#a0f0e6"/><rect x="643.28" y="427.20" width="3.5" height="16.18" fill="#a0f0e6"/><rect x="643.28" y="443.38" width="3.5" height="2.61" fill="#dddbf3"/><rect x="646.90" y="427.20" width="3.5" height="39.41" fill="#a0f0e6"/><rect x="646.90" y="466.61" width="3.5" height="9.66" fill="#dddbf3"/><rect x="646.90" y="476.27" width="3.5" height="2.09" fill="#f9eca0"/><rect x="650.52" y="423.28" width="3.5" height="3.92" fill="#a9a5e2"/><rect x="650.52" y="408.67" width="3.5" height="14.62" fill="#f3a6bb"/><rect x="650.52" y="401.88" width="3.5" height="6.79" fill="#f9eca0"/><rect x="654.14" y="421.72" width="3.5" height="5.48" fill="#a9a5e2"/><rect x="654.14" y="427.20" width="3.5" height="26.36" fill="#f3a6bb"/><rect x="654.14" y="453.56" width="3.5" height="19.31" fill="#a0f0e6"/><rect x="654.14" y="472.88" width="3.5" height="16.18" fill="#dddbf3"/><rect x="657.76" y="427.20" width="3.5" height="21.66" fill="#f3a6bb"/><rect x="657.76" y="448.86" width="3.5" height="27.40" fill="#a0f0e6"/><rect x="668.63" y="427.20" width="3.5" height="23.23" fill="#f3a6bb"/><rect x="668.63" y="450.43" width="3.5" height="14.62" fill="#dddbf3"/><rect x="672.25" y="427.20" width="3.5" height="21.66" fill="#f3a6bb"/><rect x="672.25" y="448.86" width="3.5" height="16.18" fill="#a0f0e6"/><rect x="679.49" y="427.20" width="3.5" height="12.01" fill="#f3a6bb"/><rect x="679.49" y="439.21" width="3.5" height="15.40" fill="#a0f0e6"/><rect x="679.49" y="454.61" width="3.5" height="8.87" fill="#f9eca0"/><rect x="683.11" y="427.20" width="3.5" height="12.01" fill="#f3a6bb"/><rect x="683.11" y="439.21" width="3.5" height="15.40" fill="#a0f0e6"/><rect x="693.97" y="427.20" width="3.5" height="10.44" fill="#f3a6bb"/><rect x="693.97" y="437.64" width="3.5" height="26.62" fill="#a0f0e6"/><rect x="693.97" y="464.26" width="3.5" height="8.87" fill="#dddbf3"/><rect x="697.60" y="415.19" width="3.5" height="12.01" fill="#f3a6bb"/><rect x="697.60" y="409.45" width="3.5" height="5.74" fill="#f9eca0"/><rect x="697.60" y="427.20" width="3.5" height="8.87" fill="#a0f0e6"/><rect x="701.22" y="420.94" width="3.5" height="6.26" fill="#f3a6bb"/><rect x="704.84" y="423.81" width="3.5" height="3.39" fill="#f3a6bb"/><rect x="704.84" y="427.20" width="3.5" height="2.35" fill="#a0f0e6"/><rect x="708.46" y="406.58" width="3.5" height="20.62" fill="#a9a5e2"/><rect x="708.46" y="395.36" width="3.5" height="11.22" fill="#dddbf3"/><rect x="708.46" y="427.20" width="3.5" height="13.57" fill="#a0f0e6"/><rect x="719.32" y="409.45" width="3.5" height="17.75" fill="#f3a6bb"/><rect x="719.32" y="398.23" width="3.5" height="11.22" fill="#f9eca0"/><rect x="719.32" y="394.57" width="3.5" height="3.65" fill="#bcd6f6"/><rect x="722.94" y="424.85" width="3.5" height="2.35" fill="#a9a5e2"/><rect x="722.94" y="420.94" width="3.5" height="3.92" fill="#dddbf3"/><rect x="722.94" y="427.20" width="3.5" height="8.87" fill="#a0f0e6"/><rect x="726.56" y="427.20" width="3.5" height="6.52" fill="#a0f0e6"/><rect x="733.81" y="397.19" width="3.5" height="30.01" fill="#f3a6bb"/><rect x="733.81" y="382.83" width="3.5" height="14.36" fill="#f9eca0"/><rect x="733.81" y="427.20" width="3.5" height="7.31" fill="#a0f0e6"/><rect x="744.67" y="378.91" width="3.5" height="48.29" fill="#a9a5e2"/><rect x="744.67" y="363.78" width="3.5" height="15.14" fill="#f3a6bb"/><rect x="744.67" y="356.21" width="3.5" height="7.57" fill="#a0f0e6"/><rect x="744.67" y="350.47" width="3.5" height="5.74" fill="#bcd6f6"/><rect x="748.29" y="395.88" width="3.5" height="31.32" fill="#a9a5e2"/><rect x="748.29" y="373.17" width="3.5" height="22.71" fill="#f3a6bb"/><rect x="748.29" y="359.86" width="3.5" height="13.31" fill="#dddbf3"/><rect x="748.29" y="427.20" width="3.5" height="9.66" fill="#a0f0e6"/><rect x="751.91" y="421.98" width="3.5" height="5.22" fill="#a9a5e2"/><rect x="751.91" y="406.58" width="3.5" height="15.40" fill="#f3a6bb"/><rect x="751.91" y="386.48" width="3.5" height="20.10" fill="#f9eca0"/><rect x="755.53" y="408.41" width="3.5" height="18.79" fill="#a9a5e2"/><rect x="755.53" y="400.06" width="3.5" height="8.35" fill="#f3a6bb"/><rect x="755.53" y="399.01" width="3.5" height="1.04" fill="#bcd6f6"/><rect x="755.53" y="427.20" width="3.5" height="8.87" fill="#a0f0e6"/><rect x="759.15" y="395.88" width="3.5" height="31.32" fill="#a9a5e2"/><rect x="759.15" y="365.60" width="3.5" height="30.28" fill="#f3a6bb"/><rect x="759.15" y="358.82" width="3.5" height="6.79" fill="#a0f0e6"/><rect x="759.15" y="348.38" width="3.5" height="10.44" fill="#f9eca0"/><rect x="770.02" y="396.66" width="3.5" height="30.54" fill="#a9a5e2"/><rect x="770.02" y="386.48" width="3.5" height="10.18" fill="#f3a6bb"/><rect x="770.02" y="353.08" width="3.5" height="33.41" fill="#dddbf3"/><rect x="770.02" y="350.47" width="3.5" height="2.61" fill="#f9eca0"/><rect x="773.64" y="359.86" width="3.5" height="67.34" fill="#a9a5e2"/><rect x="773.64" y="342.90" width="3.5" height="16.96" fill="#f3a6bb"/><rect x="773.64" y="333.50" width="3.5" height="9.40" fill="#f9eca0"/><rect x="773.64" y="322.80" width="3.5" height="10.70" fill="#a0e8f0"/><rect x="773.64" y="317.06" width="3.5" height="5.74" fill="#bcd6f6"/><rect x="777.26" y="397.97" width="3.5" height="29.23" fill="#a9a5e2"/><rect x="777.26" y="427.20" width="3.5" height="13.57" fill="#a0f0e6"/><rect x="780.88" y="399.79" width="3.5" height="27.41" fill="#a9a5e2"/><rect x="780.88" y="427.20" width="3.5" height="18.53" fill="#dddbf3"/><rect x="784.50" y="397.97" width="3.5" height="29.23" fill="#a9a5e2"/><rect x="784.50" y="360.91" width="3.5" height="37.06" fill="#f3a6bb"/><rect x="784.50" y="355.16" width="3.5" height="5.74" fill="#a0f0e6"/><rect x="784.50" y="337.94" width="3.5" height="17.23" fill="#f9eca0"/><rect x="784.50" y="324.63" width="3.5" height="13.31" fill="#a0e8f0"/><rect x="784.50" y="317.06" width="3.5" height="7.57" fill="#bcd6f6"/><rect x="795.36" y="289.39" width="3.5" height="137.81" fill="#a9a5e2"/><rect x="795.36" y="284.69" width="3.5" height="4.70" fill="#f3a6bb"/><rect x="795.36" y="278.17" width="3.5" height="6.52" fill="#bcd6f6"/><rect x="795.36" y="427.20" width="3.5" height="9.13" fill="#f9eca0"/><rect x="795.36" y="436.33" width="3.5" height="12.53" fill="#a0e8f0"/><rect x="798.98" y="408.41" width="3.5" height="18.79" fill="#a9a5e2"/><rect x="798.98" y="427.20" width="3.5" height="26.10" fill="#dddbf3"/><rect x="798.98" y="453.30" width="3.5" height="12.27" fill="#f9eca0"/><rect x="802.60" y="409.45" width="3.5" height="17.75" fill="#a9a5e2"/><rect x="802.60" y="427.20" width="3.5" height="4.70" fill="#a0f0e6"/><rect x="806.22" y="408.41" width="3.5" height="18.79" fill="#a9a5e2"/><rect x="806.22" y="427.20" width="3.5" height="8.87" fill="#a0f0e6"/><rect x="809.85" y="420.94" width="3.5" height="6.26" fill="#a9a5e2"/><rect x="809.85" y="413.37" width="3.5" height="7.57" fill="#f9eca0"/><rect x="809.85" y="406.58" width="3.5" height="6.79" fill="#a0e8f0"/><rect x="809.85" y="427.20" width="3.5" height="5.74" fill="#a0f0e6"/><rect x="820.71" y="374.22" width="3.5" height="52.98" fill="#a9a5e2"/><rect x="820.71" y="427.20" width="3.5" height="16.96" fill="#a0f0e6"/><rect x="820.71" y="444.16" width="3.5" height="3.13" fill="#f9eca0"/><rect x="824.33" y="408.41" width="3.5" height="18.79" fill="#a9a5e2"/><rect x="824.33" y="427.20" width="3.5" height="22.19" fill="#a0f0e6"/><rect x="824.33" y="449.38" width="3.5" height="1.31" fill="#bcd6f6"/><rect x="827.95" y="422.76" width="3.5" height="4.44" fill="#a9a5e2"/><rect x="827.95" y="427.20" width="3.5" height="8.87" fill="#f3a6bb"/><rect x="831.57" y="420.94" width="3.5" height="6.26" fill="#a9a5e2"/><rect x="831.57" y="427.20" width="3.5" height="10.44" fill="#f3a6bb"/><rect x="831.57" y="437.64" width="3.5" height="22.45" fill="#a0f0e6"/><rect x="831.57" y="460.09" width="3.5" height="6.26" fill="#dddbf3"/><rect x="831.57" y="466.35" width="3.5" height="3.65" fill="#f9eca0"/><rect x="835.19" y="416.24" width="3.5" height="10.96" fill="#a9a5e2"/><rect x="835.19" y="427.20" width="3.5" height="26.62" fill="#f3a6bb"/><rect x="835.19" y="453.82" width="3.5" height="11.22" fill="#a0f0e6"/><rect x="835.19" y="465.04" width="3.5" height="25.58" fill="#dddbf3"/><rect x="835.19" y="490.62" width="3.5" height="6.53" fill="#f9eca0"/><rect x="835.19" y="497.15" width="3.5" height="5.74" fill="#a0e8f0"/><rect x="846.06" y="427.20" width="3.5" height="15.40" fill="#f3a6bb"/><rect x="846.06" y="442.60" width="3.5" height="14.36" fill="#a0f0e6"/><rect x="846.06" y="456.95" width="3.5" height="20.88" fill="#dddbf3"/><rect x="849.68" y="427.20" width="3.5" height="15.40" fill="#f3a6bb"/><rect x="849.68" y="442.60" width="3.5" height="17.49" fill="#a0f0e6"/><rect x="849.68" y="460.09" width="3.5" height="4.96" fill="#f9eca0"/><rect x="853.30" y="414.15" width="3.5" height="13.05" fill="#a9a5e2"/><rect x="853.30" y="411.54" width="3.5" height="2.61" fill="#bcd6f6"/><rect x="853.30" y="427.20" width="3.5" height="7.31" fill="#a0f0e6"/><rect x="856.92" y="384.92" width="3.5" height="42.28" fill="#a9a5e2"/><rect x="856.92" y="369.00" width="3.5" height="15.92" fill="#f3a6bb"/><rect x="856.92" y="359.86" width="3.5" height="9.13" fill="#dddbf3"/><rect x="856.92" y="328.80" width="3.5" height="31.06" fill="#b5e0c3"/><rect x="856.92" y="427.20" width="3.5" height="46.72" fill="#a0f0e6"/><rect x="860.54" y="425.63" width="3.5" height="1.57" fill="#a9a5e2"/><rect x="860.54" y="427.20" width="3.5" height="3.92" fill="#f3a6bb"/><rect x="860.54" y="431.12" width="3.5" height="21.14" fill="#a0f0e6"/><rect x="860.54" y="452.26" width="3.5" height="4.70" fill="#f9eca0"/><rect x="871.40" y="424.85" width="3.5" height="2.35" fill="#a9a5e2"/><rect x="871.40" y="415.19" width="3.5" height="9.66" fill="#dddbf3"/><rect x="871.40" y="427.20" width="3.5" height="3.92" fill="#a0f0e6"/><rect x="875.02" y="419.11" width="3.5" height="8.09" fill="#a9a5e2"/><rect x="875.02" y="412.32" width="3.5" height="6.79" fill="#f3a6bb"/><rect x="875.02" y="408.41" width="3.5" height="3.91" fill="#f9eca0"/><rect x="875.02" y="427.20" width="3.5" height="8.09" fill="#a0f0e6"/><rect x="878.64" y="427.20" width="3.5" height="3.92" fill="#f3a6bb"/><rect x="878.64" y="431.12" width="3.5" height="17.75" fill="#a0f0e6"/><rect x="882.27" y="427.20" width="3.5" height="3.92" fill="#f3a6bb"/><rect x="882.27" y="431.12" width="3.5" height="1.83" fill="#a0f0e6"/><rect x="885.89" y="422.76" width="3.5" height="4.44" fill="#a9a5e2"/><rect x="885.89" y="406.58" width="3.5" height="16.18" fill="#f3a6bb"/><rect x="885.89" y="399.01" width="3.5" height="7.57" fill="#f5b8b8"/><rect x="885.89" y="427.20" width="3.5" height="19.31" fill="#a0f0e6"/><rect x="896.75" y="402.93" width="3.5" height="24.27" fill="#a9a5e2"/><rect x="896.75" y="427.20" width="3.5" height="8.09" fill="#a0f0e6"/><rect x="900.37" y="413.37" width="3.5" height="13.83" fill="#a9a5e2"/><rect x="900.37" y="399.79" width="3.5" height="13.57" fill="#dddbf3"/><rect x="900.37" y="427.20" width="3.5" height="2.35" fill="#a0f0e6"/><rect x="903.99" y="422.76" width="3.5" height="4.44" fill="#a9a5e2"/><rect x="903.99" y="419.11" width="3.5" height="3.65" fill="#f9eca0"/><rect x="907.61" y="407.62" width="3.5" height="19.57" fill="#a9a5e2"/><rect x="907.61" y="401.88" width="3.5" height="5.74" fill="#dddbf3"/><rect x="907.61" y="427.20" width="3.5" height="8.87" fill="#a0f0e6"/><rect x="911.23" y="404.75" width="3.5" height="22.45" fill="#a9a5e2"/><rect x="911.23" y="387.53" width="3.5" height="17.23" fill="#f3a6bb"/><rect x="911.23" y="374.22" width="3.5" height="13.31" fill="#f9eca0"/><rect x="911.23" y="366.65" width="3.5" height="7.57" fill="#bcd6f6"/><rect x="911.23" y="427.20" width="3.5" height="8.87" fill="#a0f0e6"/><rect x="922.10" y="368.47" width="3.5" height="58.73" fill="#a9a5e2"/><rect x="922.10" y="427.20" width="3.5" height="7.31" fill="#f9eca0"/><rect x="925.72" y="427.20" width="3.5" height="31.32" fill="#dddbf3"/><rect x="929.34" y="427.20" width="3.5" height="23.49" fill="#dddbf3"/><rect x="929.34" y="450.69" width="3.5" height="1.31" fill="#bcd6f6"/><rect x="932.96" y="427.20" width="3.5" height="14.36" fill="#f3a6bb"/><rect x="932.96" y="441.56" width="3.5" height="4.96" fill="#a0f0e6"/><rect x="936.58" y="427.20" width="3.5" height="18.53" fill="#a0f0e6"/><rect x="936.58" y="445.73" width="3.5" height="20.62" fill="#dddbf3"/><rect x="936.58" y="466.35" width="3.5" height="5.22" fill="#f9eca0"/><rect x="951.07" y="427.20" width="3.5" height="42.80" fill="#f3a6bb"/><rect x="951.07" y="470.00" width="3.5" height="20.62" fill="#a0f0e6"/><rect x="951.07" y="490.62" width="3.5" height="5.74" fill="#f9eca0"/><rect x="951.07" y="496.37" width="3.5" height="2.35" fill="#bcd6f6"/><rect x="954.69" y="427.20" width="3.5" height="10.44" fill="#a0f0e6"/><rect x="958.31" y="427.20" width="3.5" height="37.84" fill="#f3a6bb"/><rect x="958.31" y="465.04" width="3.5" height="6.53" fill="#a0f0e6"/><rect x="958.31" y="471.57" width="3.5" height="7.05" fill="#f9eca0"/><rect x="961.93" y="427.20" width="3.5" height="21.66" fill="#f3a6bb"/><rect x="961.93" y="448.86" width="3.5" height="17.75" fill="#a0f0e6"/><rect x="961.93" y="466.61" width="3.5" height="2.35" fill="#f9eca0"/><rect x="972.79" y="420.15" width="3.5" height="7.05" fill="#f3a6bb"/><rect x="972.79" y="411.54" width="3.5" height="8.61" fill="#f9eca0"/><rect x="972.79" y="427.20" width="3.5" height="8.09" fill="#a0f0e6"/><rect x="976.41" y="409.71" width="3.5" height="17.49" fill="#f3a6bb"/><rect x="976.41" y="427.20" width="3.5" height="13.57" fill="#dddbf3"/><rect x="980.03" y="424.85" width="3.5" height="2.35" fill="#f3a6bb"/><rect x="983.65" y="419.89" width="3.5" height="7.31" fill="#f3a6bb"/><rect x="983.65" y="418.33" width="3.5" height="1.57" fill="#dddbf3"/><rect x="987.28" y="400.06" width="3.5" height="27.14" fill="#f3a6bb"/><rect x="987.28" y="370.82" width="3.5" height="29.23" fill="#dddbf3"/><rect x="987.28" y="364.56" width="3.5" height="6.26" fill="#f9eca0"/><rect x="987.28" y="360.38" width="3.5" height="4.18" fill="#bcd6f6"/><rect x="998.14" y="421.98" width="3.5" height="5.22" fill="#a9a5e2"/><rect x="998.14" y="427.20" width="3.5" height="5.74" fill="#a0f0e6"/><rect x="1001.76" y="412.32" width="3.5" height="14.88" fill="#f3a6bb"/><rect x="1001.76" y="393.53" width="3.5" height="18.79" fill="#f9eca0"/><rect x="1001.76" y="383.87" width="3.5" height="9.66" fill="#a0e8f0"/><rect x="1001.76" y="379.18" width="3.5" height="4.70" fill="#bcd6f6"/><rect x="1005.38" y="427.20" width="3.5" height="12.79" fill="#dddbf3"/><rect x="1009.00" y="414.15" width="3.5" height="13.05" fill="#f3a6bb"/><rect x="1009.00" y="389.62" width="3.5" height="24.53" fill="#dddbf3"/><rect x="1009.00" y="388.57" width="3.5" height="1.04" fill="#bcd6f6"/><rect x="1012.62" y="420.15" width="3.5" height="7.05" fill="#f3a6bb"/><rect x="1012.62" y="411.54" width="3.5" height="8.61" fill="#f9eca0"/><rect x="1012.62" y="407.62" width="3.5" height="3.91" fill="#bcd6f6"/><rect x="1023.48" y="424.85" width="3.5" height="2.35" fill="#a9a5e2"/><rect x="1023.48" y="418.33" width="3.5" height="6.53" fill="#f3a6bb"/><rect x="1023.48" y="427.20" width="3.5" height="9.66" fill="#a0f0e6"/><rect x="1027.11" y="400.84" width="3.5" height="26.36" fill="#a9a5e2"/><rect x="1027.11" y="396.92" width="3.5" height="3.92" fill="#f3a6bb"/><rect x="1027.11" y="393.27" width="3.5" height="3.65" fill="#f9eca0"/><rect x="1030.73" y="379.70" width="3.5" height="47.50" fill="#a9a5e2"/><rect x="1030.73" y="427.20" width="3.5" height="7.31" fill="#f3a6bb"/><rect x="1030.73" y="434.51" width="3.5" height="13.57" fill="#dddbf3"/><rect x="1034.35" y="403.97" width="3.5" height="23.23" fill="#a9a5e2"/><rect x="1034.35" y="384.13" width="3.5" height="19.84" fill="#f3a6bb"/><rect x="1034.35" y="354.12" width="3.5" height="30.01" fill="#dddbf3"/><rect x="1034.35" y="339.76" width="3.5" height="14.36" fill="#f9eca0"/><rect x="1034.35" y="331.41" width="3.5" height="8.35" fill="#a0e8f0"/><rect x="1037.97" y="399.01" width="3.5" height="28.19" fill="#a9a5e2"/><rect x="1037.97" y="367.43" width="3.5" height="31.58" fill="#f3a6bb"/><rect x="1037.97" y="359.86" width="3.5" height="7.57" fill="#a0f0e6"/><rect x="1037.97" y="308.44" width="3.5" height="51.42" fill="#dddbf3"/><rect x="1037.97" y="304.53" width="3.5" height="3.92" fill="#f9eca0"/><rect x="1037.97" y="299.83" width="3.5" height="4.70" fill="#bcd6f6"/><rect x="1052.45" y="417.02" width="3.5" height="10.18" fill="#a9a5e2"/><rect x="1052.45" y="427.20" width="3.5" height="37.06" fill="#f3a6bb"/><rect x="1052.45" y="464.26" width="3.5" height="23.23" fill="#dddbf3"/><rect x="1052.45" y="487.49" width="3.5" height="8.09" fill="#f9eca0"/><rect x="1052.45" y="495.58" width="3.5" height="5.74" fill="#a0e8f0"/><rect x="1056.07" y="421.98" width="3.5" height="5.22" fill="#f3a6bb"/><rect x="1056.07" y="427.20" width="3.5" height="3.92" fill="#a9a5e2"/><rect x="1056.07" y="431.12" width="3.5" height="10.44" fill="#a0f0e6"/><rect x="1056.07" y="441.56" width="3.5" height="10.96" fill="#dddbf3"/><rect x="1059.69" y="417.54" width="3.5" height="9.66" fill="#a9a5e2"/><rect x="1059.69" y="427.20" width="3.5" height="24.53" fill="#dddbf3"/><rect x="1063.32" y="418.06" width="3.5" height="9.13" fill="#f5b8b8"/><rect x="1063.32" y="416.24" width="3.5" height="1.83" fill="#b5e0c3"/><rect x="1063.32" y="427.20" width="3.5" height="3.39" fill="#f3a6bb"/><rect x="1074.18" y="402.93" width="3.5" height="24.27" fill="#a9a5e2"/><rect x="1074.18" y="375.26" width="3.5" height="27.67" fill="#f3a6bb"/><rect x="1074.18" y="366.65" width="3.5" height="8.61" fill="#bcd6f6"/><rect x="1077.80" y="417.02" width="3.5" height="10.18" fill="#a9a5e2"/><rect x="1077.80" y="427.20" width="3.5" height="14.36" fill="#f3a6bb"/><rect x="1081.42" y="424.85" width="3.5" height="2.35" fill="#a9a5e2"/><rect x="1081.42" y="427.20" width="3.5" height="13.57" fill="#f3a6bb"/><rect x="1085.04" y="426.68" width="3.5" height="0.52" fill="#a9a5e2"/><rect x="1085.04" y="427.20" width="3.5" height="20.10" fill="#f3a6bb"/><rect x="1088.66" y="397.97" width="3.5" height="29.23" fill="#f3a6bb"/><rect x="1088.66" y="359.34" width="3.5" height="38.63" fill="#dddbf3"/><rect x="1088.66" y="355.16" width="3.5" height="4.18" fill="#bcd6f6"/><rect x="1088.66" y="427.20" width="3.5" height="4.70" fill="#a0f0e6"/><rect x="1099.53" y="407.62" width="3.5" height="19.57" fill="#a9a5e2"/><rect x="1099.53" y="344.72" width="3.5" height="62.90" fill="#f3a6bb"/><rect x="1099.53" y="336.11" width="3.5" height="8.61" fill="#a0f0e6"/><rect x="1099.53" y="316.01" width="3.5" height="20.10" fill="#dddbf3"/><rect x="1099.53" y="290.17" width="3.5" height="25.84" fill="#f9eca0"/><rect x="1099.53" y="284.95" width="3.5" height="5.22" fill="#bcd6f6"/><rect x="1103.15" y="352.03" width="3.5" height="75.17" fill="#a9a5e2"/><rect x="1103.15" y="341.85" width="3.5" height="10.18" fill="#f3a6bb"/><rect x="1103.15" y="334.54" width="3.5" height="7.31" fill="#a0f0e6"/><rect x="1106.77" y="325.15" width="3.5" height="102.05" fill="#a9a5e2"/><rect x="1106.77" y="316.01" width="3.5" height="9.13" fill="#f3a6bb"/><rect x="1106.77" y="307.92" width="3.5" height="8.09" fill="#bcd6f6"/><rect x="1110.39" y="345.77" width="3.5" height="81.43" fill="#a9a5e2"/><rect x="1110.39" y="330.89" width="3.5" height="14.88" fill="#a0f0e6"/><rect x="1110.39" y="304.79" width="3.5" height="26.10" fill="#dddbf3"/><rect x="1114.01" y="409.45" width="3.5" height="17.75" fill="#a9a5e2"/><rect x="1114.01" y="404.75" width="3.5" height="4.70" fill="#f3a6bb"/><rect x="1114.01" y="369.78" width="3.5" height="34.97" fill="#dddbf3"/><rect x="1114.01" y="361.95" width="3.5" height="7.83" fill="#f9eca0"/><rect x="1114.01" y="355.69" width="3.5" height="6.26" fill="#bcd6f6"/><rect x="1124.87" y="340.03" width="3.5" height="87.17" fill="#a9a5e2"/><rect x="1124.87" y="427.20" width="3.5" height="8.87" fill="#f9eca0"/><rect x="1128.49" y="414.15" width="3.5" height="13.05" fill="#a9a5e2"/><rect x="1128.49" y="427.20" width="3.5" height="33.67" fill="#dddbf3"/><rect x="1132.12" y="344.20" width="3.5" height="83.00" fill="#a9a5e2"/><rect x="1132.12" y="427.20" width="3.5" height="32.89" fill="#dddbf3"/><rect x="1135.74" y="383.87" width="3.5" height="43.33" fill="#a9a5e2"/><rect x="1135.74" y="376.04" width="3.5" height="7.83" fill="#f9eca0"/><rect x="1139.36" y="351.51" width="3.5" height="75.69" fill="#a9a5e2"/><rect x="1139.36" y="335.85" width="3.5" height="15.66" fill="#f3a6bb"/><rect x="1139.36" y="324.63" width="3.5" height="11.22" fill="#dddbf3"/><rect x="1150.22" y="344.99" width="3.5" height="82.21" fill="#a9a5e2"/><rect x="1150.22" y="334.02" width="3.5" height="10.96" fill="#f3a6bb"/><rect x="1150.22" y="314.97" width="3.5" height="19.05" fill="#dddbf3"/><rect x="1150.22" y="307.66" width="3.5" height="7.31" fill="#f9eca0"/><rect x="1153.84" y="259.90" width="3.5" height="167.30" fill="#a9a5e2"/><rect x="1153.84" y="223.88" width="3.5" height="36.02" fill="#f3a6bb"/><rect x="1153.84" y="208.48" width="3.5" height="15.40" fill="#f9eca0"/><rect x="1153.84" y="203.78" width="3.5" height="4.70" fill="#a0e8f0"/><rect x="1157.46" y="197.26" width="3.5" height="229.94" fill="#a9a5e2"/><rect x="1157.46" y="190.73" width="3.5" height="6.53" fill="#bcd6f6"/><rect x="1161.08" y="344.20" width="3.5" height="83.00" fill="#a9a5e2"/><rect x="1161.08" y="427.20" width="3.5" height="20.88" fill="#f3a6bb"/><rect x="1161.08" y="448.08" width="3.5" height="8.09" fill="#a0f0e6"/><rect x="1161.08" y="456.17" width="3.5" height="24.01" fill="#dddbf3"/><rect x="1161.08" y="480.18" width="3.5" height="18.53" fill="#f9eca0"/><rect x="1161.08" y="498.71" width="3.5" height="2.61" fill="#a0e8f0"/><rect x="100.78" y="327.24" width="2.2" height="99.96" fill="#1f1c52"/><rect x="100.78" y="275.56" width="2.2" height="51.68" fill="#cf4262"/><rect x="100.78" y="263.29" width="2.2" height="12.27" fill="#aeaad8"/><rect x="100.78" y="258.86" width="2.2" height="4.44" fill="#eed24a"/><rect x="100.78" y="247.11" width="2.2" height="11.75" fill="#6b9ad6"/><rect x="100.78" y="427.20" width="2.2" height="126.06" fill="#36ad9f"/><rect x="100.78" y="246.81" width="2.2" height="1.3" fill="#7d7d86" opacity="0.8"/><rect x="100.78" y="552.26" width="2.2" height="1.3" fill="#7d7d86" opacity="0.8"/><rect x="115.26" y="371.87" width="2.2" height="55.33" fill="#1f1c52"/><rect x="115.26" y="344.46" width="2.2" height="27.41" fill="#cf4262"/><rect x="115.26" y="307.14" width="2.2" height="37.32" fill="#aeaad8"/><rect x="115.26" y="299.57" width="2.2" height="7.57" fill="#eed24a"/><rect x="115.26" y="286.26" width="2.2" height="13.31" fill="#6b9ad6"/><rect x="115.26" y="427.20" width="2.2" height="153.47" fill="#36ad9f"/><rect x="115.26" y="285.96" width="2.2" height="1.3" fill="#7d7d86" opacity="0.8"/><rect x="115.26" y="579.67" width="2.2" height="1.3" fill="#7d7d86" opacity="0.8"/><rect x="118.89" y="330.11" width="2.2" height="97.09" fill="#1f1c52"/><rect x="118.89" y="236.67" width="2.2" height="93.44" fill="#cf4262"/><rect x="118.89" y="223.36" width="2.2" height="13.31" fill="#aeaad8"/><rect x="118.89" y="206.13" width="2.2" height="17.23" fill="#eed24a"/><rect x="118.89" y="188.12" width="2.2" height="18.01" fill="#6b9ad6"/><rect x="118.89" y="427.20" width="2.2" height="118.49" fill="#36ad9f"/><rect x="118.89" y="187.82" width="2.2" height="1.3" fill="#7d7d86" opacity="0.8"/><rect x="118.89" y="544.69" width="2.2" height="1.3" fill="#7d7d86" opacity="0.8"/><rect x="122.51" y="389.09" width="2.2" height="38.11" fill="#1f1c52"/><rect x="122.51" y="343.42" width="2.2" height="45.68" fill="#cf4262"/><rect x="122.51" y="317.58" width="2.2" height="25.84" fill="#aeaad8"/><rect x="122.51" y="312.36" width="2.2" height="5.22" fill="#eed24a"/><rect x="122.51" y="308.71" width="2.2" height="3.65" fill="#6b9ad6"/><rect x="122.51" y="427.20" width="2.2" height="150.86" fill="#36ad9f"/><rect x="122.51" y="308.41" width="2.2" height="1.3" fill="#7d7d86" opacity="0.8"/><rect x="122.51" y="577.06" width="2.2" height="1.3" fill="#7d7d86" opacity="0.8"/><rect x="126.13" y="375.00" width="2.2" height="52.20" fill="#1f1c52"/><rect x="126.13" y="316.80" width="2.2" height="58.20" fill="#cf4262"/><rect x="126.13" y="301.40" width="2.2" height="15.40" fill="#aeaad8"/><rect x="126.13" y="287.56" width="2.2" height="13.83" fill="#eed24a"/><rect x="126.13" y="261.20" width="2.2" height="26.36" fill="#6b9ad6"/><rect x="126.13" y="427.20" width="2.2" height="153.21" fill="#36ad9f"/><rect x="126.13" y="260.90" width="2.2" height="1.3" fill="#7d7d86" opacity="0.8"/><rect x="126.13" y="579.41" width="2.2" height="1.3" fill="#7d7d86" opacity="0.8"/><rect x="136.99" y="359.60" width="2.2" height="67.60" fill="#1f1c52"/><rect x="136.99" y="317.58" width="2.2" height="42.02" fill="#cf4262"/><rect x="136.99" y="304.53" width="2.2" height="13.05" fill="#aeaad8"/><rect x="136.99" y="291.48" width="2.2" height="13.05" fill="#eed24a"/><rect x="136.99" y="283.13" width="2.2" height="8.35" fill="#6b9ad6"/><rect x="136.99" y="427.20" width="2.2" height="166.00" fill="#36ad9f"/><rect x="136.99" y="282.83" width="2.2" height="1.3" fill="#7d7d86" opacity="0.8"/><rect x="136.99" y="592.20" width="2.2" height="1.3" fill="#7d7d86" opacity="0.8"/><rect x="140.61" y="385.18" width="2.2" height="42.02" fill="#1f1c52"/><rect x="140.61" y="344.46" width="2.2" height="40.72" fill="#cf4262"/><rect x="140.61" y="328.02" width="2.2" height="16.44" fill="#aeaad8"/><rect x="140.61" y="319.67" width="2.2" height="8.35" fill="#eed24a"/><rect x="140.61" y="427.20" width="2.2" height="132.59" fill="#36ad9f"/><rect x="140.61" y="319.37" width="2.2" height="1.3" fill="#7d7d86" opacity="0.8"/><rect x="140.61" y="558.79" width="2.2" height="1.3" fill="#7d7d86" opacity="0.8"/><rect x="144.23" y="409.97" width="2.2" height="17.23" fill="#1f1c52"/><rect x="144.23" y="377.61" width="2.2" height="32.36" fill="#cf4262"/><rect x="144.23" y="362.47" width="2.2" height="15.14" fill="#aeaad8"/><rect x="144.23" y="356.73" width="2.2" height="5.74" fill="#eed24a"/><rect x="144.23" y="427.20" width="2.2" height="111.19" fill="#36ad9f"/><rect x="144.23" y="356.43" width="2.2" height="1.3" fill="#7d7d86" opacity="0.8"/><rect x="144.23" y="537.39" width="2.2" height="1.3" fill="#7d7d86" opacity="0.8"/><rect x="147.85" y="383.35" width="2.2" height="43.85" fill="#1f1c52"/><rect x="147.85" y="356.73" width="2.2" height="26.62" fill="#cf4262"/><rect x="147.85" y="351.51" width="2.2" height="5.22" fill="#aeaad8"/><rect x="147.85" y="346.29" width="2.2" height="5.22" fill="#eed24a"/><rect x="147.85" y="427.20" width="2.2" height="101.79" fill="#36ad9f"/><rect x="147.85" y="345.99" width="2.2" height="1.3" fill="#7d7d86" opacity="0.8"/><rect x="147.85" y="527.99" width="2.2" height="1.3" fill="#7d7d86" opacity="0.8"/><rect x="151.47" y="404.49" width="2.2" height="22.71" fill="#1f1c52"/><rect x="151.47" y="378.65" width="2.2" height="25.84" fill="#cf4262"/><rect x="151.47" y="364.30" width="2.2" height="14.36" fill="#aeaad8"/><rect x="151.47" y="357.77" width="2.2" height="6.52" fill="#eed24a"/><rect x="151.47" y="427.20" width="2.2" height="65.25" fill="#36ad9f"/><rect x="151.47" y="357.47" width="2.2" height="1.3" fill="#7d7d86" opacity="0.8"/><rect x="151.47" y="491.45" width="2.2" height="1.3" fill="#7d7d86" opacity="0.8"/><rect x="162.34" y="375.78" width="2.2" height="51.42" fill="#1f1c52"/><rect x="162.34" y="320.71" width="2.2" height="55.07" fill="#cf4262"/><rect x="162.34" y="314.71" width="2.2" height="6.00" fill="#aeaad8"/><rect x="162.34" y="310.27" width="2.2" height="4.44" fill="#eed24a"/><rect x="162.34" y="427.20" width="2.2" height="49.07" fill="#36ad9f"/><rect x="162.34" y="309.97" width="2.2" height="1.3" fill="#7d7d86" opacity="0.8"/><rect x="162.34" y="475.27" width="2.2" height="1.3" fill="#7d7d86" opacity="0.8"/><rect x="165.96" y="350.20" width="2.2" height="77.00" fill="#1f1c52"/><rect x="165.96" y="318.62" width="2.2" height="31.58" fill="#cf4262"/><rect x="165.96" y="306.36" width="2.2" height="12.27" fill="#aeaad8"/><rect x="165.96" y="427.20" width="2.2" height="56.64" fill="#36ad9f"/><rect x="165.96" y="306.06" width="2.2" height="1.3" fill="#7d7d86" opacity="0.8"/><rect x="165.96" y="482.84" width="2.2" height="1.3" fill="#7d7d86" opacity="0.8"/><rect x="169.58" y="397.71" width="2.2" height="29.49" fill="#1f1c52"/><rect x="169.58" y="336.63" width="2.2" height="61.07" fill="#cf4262"/><rect x="169.58" y="332.72" width="2.2" height="3.92" fill="#aeaad8"/><rect x="169.58" y="328.28" width="2.2" height="4.44" fill="#eed24a"/><rect x="169.58" y="427.20" width="2.2" height="46.98" fill="#36ad9f"/><rect x="169.58" y="327.98" width="2.2" height="1.3" fill="#7d7d86" opacity="0.8"/><rect x="169.58" y="473.18" width="2.2" height="1.3" fill="#7d7d86" opacity="0.8"/><rect x="173.20" y="385.18" width="2.2" height="42.02" fill="#1f1c52"/><rect x="173.20" y="374.74" width="2.2" height="10.44" fill="#cf4262"/><rect x="173.20" y="369.26" width="2.2" height="5.48" fill="#eed24a"/><rect x="173.20" y="427.20" width="2.2" height="46.98" fill="#36ad9f"/><rect x="173.20" y="368.96" width="2.2" height="1.3" fill="#7d7d86" opacity="0.8"/><rect x="173.20" y="473.18" width="2.2" height="1.3" fill="#7d7d86" opacity="0.8"/><rect x="176.82" y="399.53" width="2.2" height="27.67" fill="#1f1c52"/><rect x="176.82" y="379.44" width="2.2" height="20.10" fill="#cf4262"/><rect x="176.82" y="369.26" width="2.2" height="10.18" fill="#eed24a"/><rect x="176.82" y="427.20" width="2.2" height="36.54" fill="#36ad9f"/><rect x="176.82" y="368.96" width="2.2" height="1.3" fill="#7d7d86" opacity="0.8"/><rect x="176.82" y="462.74" width="2.2" height="1.3" fill="#7d7d86" opacity="0.8"/><rect x="187.68" y="391.96" width="2.2" height="35.24" fill="#1f1c52"/><rect x="187.68" y="381.52" width="2.2" height="10.44" fill="#cf4262"/><rect x="187.68" y="427.20" width="2.2" height="27.14" fill="#36ad9f"/><rect x="187.68" y="381.22" width="2.2" height="1.3" fill="#7d7d86" opacity="0.8"/><rect x="187.68" y="453.34" width="2.2" height="1.3" fill="#7d7d86" opacity="0.8"/><rect x="191.31" y="415.72" width="2.2" height="11.48" fill="#1f1c52"/><rect x="191.31" y="402.40" width="2.2" height="13.31" fill="#cf4262"/><rect x="191.31" y="427.20" width="2.2" height="16.70" fill="#36ad9f"/><rect x="191.31" y="402.10" width="2.2" height="1.3" fill="#7d7d86" opacity="0.8"/><rect x="191.31" y="442.90" width="2.2" height="1.3" fill="#7d7d86" opacity="0.8"/><rect x="194.93" y="412.84" width="2.2" height="14.36" fill="#1f1c52"/><rect x="194.93" y="377.61" width="2.2" height="35.23" fill="#cf4262"/><rect x="194.93" y="373.69" width="2.2" height="3.92" fill="#aeaad8"/><rect x="194.93" y="369.78" width="2.2" height="3.92" fill="#eed24a"/><rect x="194.93" y="427.20" width="2.2" height="19.57" fill="#36ad9f"/><rect x="194.93" y="369.48" width="2.2" height="1.3" fill="#7d7d86" opacity="0.8"/><rect x="194.93" y="445.77" width="2.2" height="1.3" fill="#7d7d86" opacity="0.8"/><rect x="198.55" y="373.69" width="2.2" height="53.50" fill="#1f1c52"/><rect x="198.55" y="339.76" width="2.2" height="33.93" fill="#cf4262"/><rect x="198.55" y="312.36" width="2.2" height="27.40" fill="#aeaad8"/><rect x="198.55" y="304.53" width="2.2" height="7.83" fill="#eed24a"/><rect x="198.55" y="294.61" width="2.2" height="9.92" fill="#6b9ad6"/><rect x="198.55" y="427.20" width="2.2" height="25.32" fill="#36ad9f"/><rect x="198.55" y="294.31" width="2.2" height="1.3" fill="#7d7d86" opacity="0.8"/><rect x="198.55" y="451.52" width="2.2" height="1.3" fill="#7d7d86" opacity="0.8"/><rect x="202.17" y="362.47" width="2.2" height="64.73" fill="#1f1c52"/><rect x="202.17" y="313.14" width="2.2" height="49.33" fill="#cf4262"/><rect x="202.17" y="281.04" width="2.2" height="32.10" fill="#aeaad8"/><rect x="202.17" y="267.99" width="2.2" height="13.05" fill="#eed24a"/><rect x="202.17" y="427.20" width="2.2" height="16.70" fill="#36ad9f"/><rect x="202.17" y="267.69" width="2.2" height="1.3" fill="#7d7d86" opacity="0.8"/><rect x="202.17" y="442.90" width="2.2" height="1.3" fill="#7d7d86" opacity="0.8"/><rect x="213.03" y="329.32" width="2.2" height="97.88" fill="#1f1c52"/><rect x="213.03" y="288.87" width="2.2" height="40.45" fill="#cf4262"/><rect x="213.03" y="279.74" width="2.2" height="9.13" fill="#aeaad8"/><rect x="213.03" y="269.03" width="2.2" height="10.70" fill="#eed24a"/><rect x="213.03" y="427.20" width="2.2" height="28.97" fill="#36ad9f"/><rect x="213.03" y="268.73" width="2.2" height="1.3" fill="#7d7d86" opacity="0.8"/><rect x="213.03" y="455.17" width="2.2" height="1.3" fill="#7d7d86" opacity="0.8"/><rect x="216.65" y="298.53" width="2.2" height="128.67" fill="#1f1c52"/><rect x="216.65" y="255.72" width="2.2" height="42.80" fill="#cf4262"/><rect x="216.65" y="244.24" width="2.2" height="11.48" fill="#aeaad8"/><rect x="216.65" y="427.20" width="2.2" height="17.49" fill="#36ad9f"/><rect x="216.65" y="243.94" width="2.2" height="1.3" fill="#7d7d86" opacity="0.8"/><rect x="216.65" y="443.69" width="2.2" height="1.3" fill="#7d7d86" opacity="0.8"/><rect x="220.27" y="369.26" width="2.2" height="57.94" fill="#1f1c52"/><rect x="220.27" y="336.89" width="2.2" height="32.36" fill="#cf4262"/><rect x="220.27" y="301.92" width="2.2" height="34.97" fill="#aeaad8"/><rect x="220.27" y="295.13" width="2.2" height="6.79" fill="#eed24a"/><rect x="220.27" y="427.20" width="2.2" height="43.33" fill="#36ad9f"/><rect x="220.27" y="294.83" width="2.2" height="1.3" fill="#7d7d86" opacity="0.8"/><rect x="220.27" y="469.53" width="2.2" height="1.3" fill="#7d7d86" opacity="0.8"/><rect x="223.89" y="340.55" width="2.2" height="86.65" fill="#1f1c52"/><rect x="223.89" y="315.75" width="2.2" height="24.80" fill="#cf4262"/><rect x="223.89" y="289.39" width="2.2" height="26.36" fill="#aeaad8"/><rect x="223.89" y="260.16" width="2.2" height="29.23" fill="#eed24a"/><rect x="223.89" y="257.03" width="2.2" height="3.13" fill="#6b9ad6"/><rect x="223.89" y="427.20" width="2.2" height="45.41" fill="#36ad9f"/><rect x="223.89" y="256.73" width="2.2" height="1.3" fill="#7d7d86" opacity="0.8"/><rect x="223.89" y="471.61" width="2.2" height="1.3" fill="#7d7d86" opacity="0.8"/><rect x="227.52" y="377.61" width="2.2" height="49.59" fill="#1f1c52"/><rect x="227.52" y="344.99" width="2.2" height="32.62" fill="#cf4262"/><rect x="227.52" y="311.05" width="2.2" height="33.93" fill="#aeaad8"/><rect x="227.52" y="301.66" width="2.2" height="9.40" fill="#eed24a"/><rect x="227.52" y="427.20" width="2.2" height="38.63" fill="#36ad9f"/><rect x="227.52" y="301.36" width="2.2" height="1.3" fill="#7d7d86" opacity="0.8"/><rect x="227.52" y="464.83" width="2.2" height="1.3" fill="#7d7d86" opacity="0.8"/><rect x="242.00" y="387.27" width="2.2" height="39.93" fill="#1f1c52"/><rect x="242.00" y="368.21" width="2.2" height="19.05" fill="#cf4262"/><rect x="242.00" y="359.34" width="2.2" height="8.87" fill="#aeaad8"/><rect x="242.00" y="355.95" width="2.2" height="3.39" fill="#6b9ad6"/><rect x="242.00" y="427.20" width="2.2" height="34.97" fill="#36ad9f"/><rect x="242.00" y="355.65" width="2.2" height="1.3" fill="#7d7d86" opacity="0.8"/><rect x="242.00" y="461.17" width="2.2" height="1.3" fill="#7d7d86" opacity="0.8"/><rect x="245.62" y="401.62" width="2.2" height="25.58" fill="#1f1c52"/><rect x="245.62" y="387.27" width="2.2" height="14.36" fill="#cf4262"/><rect x="245.62" y="427.20" width="2.2" height="51.94" fill="#36ad9f"/><rect x="245.62" y="386.97" width="2.2" height="1.3" fill="#7d7d86" opacity="0.8"/><rect x="245.62" y="478.14" width="2.2" height="1.3" fill="#7d7d86" opacity="0.8"/><rect x="249.24" y="394.84" width="2.2" height="32.36" fill="#1f1c52"/><rect x="249.24" y="350.99" width="2.2" height="43.85" fill="#cf4262"/><rect x="249.24" y="347.33" width="2.2" height="3.65" fill="#aeaad8"/><rect x="249.24" y="427.20" width="2.2" height="14.09" fill="#36ad9f"/><rect x="249.24" y="347.03" width="2.2" height="1.3" fill="#7d7d86" opacity="0.8"/><rect x="249.24" y="440.29" width="2.2" height="1.3" fill="#7d7d86" opacity="0.8"/><rect x="252.86" y="383.35" width="2.2" height="43.85" fill="#1f1c52"/><rect x="252.86" y="369.26" width="2.2" height="14.09" fill="#cf4262"/><rect x="252.86" y="354.90" width="2.2" height="14.35" fill="#aeaad8"/><rect x="252.86" y="351.51" width="2.2" height="3.39" fill="#eed24a"/><rect x="252.86" y="427.20" width="2.2" height="11.22" fill="#36ad9f"/><rect x="252.86" y="351.21" width="2.2" height="1.3" fill="#7d7d86" opacity="0.8"/><rect x="252.86" y="437.42" width="2.2" height="1.3" fill="#7d7d86" opacity="0.8"/><rect x="263.73" y="398.75" width="2.2" height="28.45" fill="#1f1c52"/><rect x="263.73" y="334.81" width="2.2" height="63.94" fill="#cf4262"/><rect x="263.73" y="298.00" width="2.2" height="36.80" fill="#aeaad8"/><rect x="263.73" y="290.17" width="2.2" height="7.83" fill="#eed24a"/><rect x="263.73" y="287.56" width="2.2" height="2.61" fill="#6b9ad6"/><rect x="263.73" y="427.20" width="2.2" height="5.48" fill="#36ad9f"/><rect x="263.73" y="287.26" width="2.2" height="1.3" fill="#7d7d86" opacity="0.8"/><rect x="263.73" y="431.68" width="2.2" height="1.3" fill="#7d7d86" opacity="0.8"/><rect x="267.35" y="291.48" width="2.2" height="135.72" fill="#1f1c52"/><rect x="267.35" y="258.07" width="2.2" height="33.41" fill="#cf4262"/><rect x="267.35" y="252.33" width="2.2" height="5.74" fill="#aeaad8"/><rect x="267.35" y="245.54" width="2.2" height="6.79" fill="#eed24a"/><rect x="267.35" y="427.20" width="2.2" height="32.10" fill="#36ad9f"/><rect x="267.35" y="245.24" width="2.2" height="1.3" fill="#7d7d86" opacity="0.8"/><rect x="267.35" y="458.30" width="2.2" height="1.3" fill="#7d7d86" opacity="0.8"/><rect x="270.97" y="267.47" width="2.2" height="159.73" fill="#1f1c52"/><rect x="270.97" y="203.78" width="2.2" height="63.68" fill="#cf4262"/><rect x="270.97" y="193.34" width="2.2" height="10.44" fill="#aeaad8"/><rect x="270.97" y="427.20" width="2.2" height="56.64" fill="#36ad9f"/><rect x="270.97" y="193.04" width="2.2" height="1.3" fill="#7d7d86" opacity="0.8"/><rect x="270.97" y="482.84" width="2.2" height="1.3" fill="#7d7d86" opacity="0.8"/><rect x="274.59" y="268.51" width="2.2" height="158.69" fill="#1f1c52"/><rect x="274.59" y="247.63" width="2.2" height="20.88" fill="#cf4262"/><rect x="274.59" y="247.11" width="2.2" height="0.52" fill="#aeaad8"/><rect x="274.59" y="427.20" width="2.2" height="156.60" fill="#36ad9f"/><rect x="274.59" y="246.81" width="2.2" height="1.3" fill="#7d7d86" opacity="0.8"/><rect x="274.59" y="582.80" width="2.2" height="1.3" fill="#7d7d86" opacity="0.8"/><rect x="278.21" y="373.96" width="2.2" height="53.24" fill="#1f1c52"/><rect x="278.21" y="360.64" width="2.2" height="13.31" fill="#cf4262"/><rect x="278.21" y="348.12" width="2.2" height="12.53" fill="#aeaad8"/><rect x="278.21" y="334.81" width="2.2" height="13.31" fill="#eed24a"/><rect x="278.21" y="427.20" width="2.2" height="127.89" fill="#36ad9f"/><rect x="278.21" y="334.51" width="2.2" height="1.3" fill="#7d7d86" opacity="0.8"/><rect x="278.21" y="554.09" width="2.2" height="1.3" fill="#7d7d86" opacity="0.8"/><rect x="289.07" y="317.58" width="2.2" height="109.62" fill="#1f1c52"/><rect x="289.07" y="211.61" width="2.2" height="105.97" fill="#cf4262"/><rect x="289.07" y="201.96" width="2.2" height="9.66" fill="#aeaad8"/><rect x="289.07" y="176.64" width="2.2" height="25.32" fill="#eed24a"/><rect x="289.07" y="427.20" width="2.2" height="104.14" fill="#36ad9f"/><rect x="289.07" y="176.34" width="2.2" height="1.3" fill="#7d7d86" opacity="0.8"/><rect x="289.07" y="530.34" width="2.2" height="1.3" fill="#7d7d86" opacity="0.8"/><rect x="292.69" y="221.79" width="2.2" height="205.41" fill="#1f1c52"/><rect x="292.69" y="189.69" width="2.2" height="32.10" fill="#cf4262"/><rect x="292.69" y="168.55" width="2.2" height="21.14" fill="#aeaad8"/><rect x="292.69" y="427.20" width="2.2" height="90.05" fill="#36ad9f"/><rect x="292.69" y="168.25" width="2.2" height="1.3" fill="#7d7d86" opacity="0.8"/><rect x="292.69" y="516.25" width="2.2" height="1.3" fill="#7d7d86" opacity="0.8"/><rect x="296.31" y="353.86" width="2.2" height="73.34" fill="#1f1c52"/><rect x="296.31" y="291.48" width="2.2" height="62.38" fill="#cf4262"/><rect x="296.31" y="270.34" width="2.2" height="21.14" fill="#eed24a"/><rect x="296.31" y="427.20" width="2.2" height="71.78" fill="#36ad9f"/><rect x="296.31" y="270.04" width="2.2" height="1.3" fill="#7d7d86" opacity="0.8"/><rect x="296.31" y="497.98" width="2.2" height="1.3" fill="#7d7d86" opacity="0.8"/><rect x="299.94" y="364.30" width="2.2" height="62.90" fill="#1f1c52"/><rect x="299.94" y="236.15" width="2.2" height="128.15" fill="#cf4262"/><rect x="299.94" y="226.23" width="2.2" height="9.92" fill="#aeaad8"/><rect x="299.94" y="218.66" width="2.2" height="7.57" fill="#eed24a"/><rect x="299.94" y="206.39" width="2.2" height="12.27" fill="#e06870"/><rect x="299.94" y="427.20" width="2.2" height="96.57" fill="#36ad9f"/><rect x="299.94" y="206.09" width="2.2" height="1.3" fill="#7d7d86" opacity="0.8"/><rect x="299.94" y="522.77" width="2.2" height="1.3" fill="#7d7d86" opacity="0.8"/><rect x="303.56" y="339.50" width="2.2" height="87.70" fill="#1f1c52"/><rect x="303.56" y="305.31" width="2.2" height="34.19" fill="#cf4262"/><rect x="303.56" y="289.65" width="2.2" height="15.66" fill="#aeaad8"/><rect x="303.56" y="427.20" width="2.2" height="80.39" fill="#36ad9f"/><rect x="303.56" y="289.35" width="2.2" height="1.3" fill="#7d7d86" opacity="0.8"/><rect x="303.56" y="506.59" width="2.2" height="1.3" fill="#7d7d86" opacity="0.8"/><rect x="314.42" y="279.74" width="2.2" height="147.46" fill="#1f1c52"/><rect x="314.42" y="215.79" width="2.2" height="63.95" fill="#cf4262"/><rect x="314.42" y="207.96" width="2.2" height="7.83" fill="#eed24a"/><rect x="314.42" y="176.12" width="2.2" height="31.84" fill="#38adbd"/><rect x="314.42" y="164.89" width="2.2" height="11.22" fill="#e06870"/><rect x="314.42" y="427.20" width="2.2" height="128.93" fill="#36ad9f"/><rect x="314.42" y="164.59" width="2.2" height="1.3" fill="#7d7d86" opacity="0.8"/><rect x="314.42" y="555.13" width="2.2" height="1.3" fill="#7d7d86" opacity="0.8"/><rect x="318.04" y="205.35" width="2.2" height="221.85" fill="#1f1c52"/><rect x="318.04" y="191.78" width="2.2" height="13.57" fill="#cf4262"/><rect x="318.04" y="166.20" width="2.2" height="25.58" fill="#aeaad8"/><rect x="318.04" y="160.98" width="2.2" height="5.22" fill="#eed24a"/><rect x="318.04" y="135.92" width="2.2" height="25.06" fill="#38adbd"/><rect x="318.04" y="128.88" width="2.2" height="7.05" fill="#e06870"/><rect x="318.04" y="427.20" width="2.2" height="26.36" fill="#36ad9f"/><rect x="318.04" y="128.58" width="2.2" height="1.3" fill="#7d7d86" opacity="0.8"/><rect x="318.04" y="452.56" width="2.2" height="1.3" fill="#7d7d86" opacity="0.8"/><rect x="321.66" y="273.47" width="2.2" height="153.73" fill="#1f1c52"/><rect x="321.66" y="200.13" width="2.2" height="73.34" fill="#cf4262"/><rect x="321.66" y="193.60" width="2.2" height="6.52" fill="#aeaad8"/><rect x="321.66" y="184.47" width="2.2" height="9.14" fill="#eed24a"/><rect x="321.66" y="176.64" width="2.2" height="7.83" fill="#6b9ad6"/><rect x="321.66" y="427.20" width="2.2" height="70.99" fill="#36ad9f"/><rect x="321.66" y="176.34" width="2.2" height="1.3" fill="#7d7d86" opacity="0.8"/><rect x="321.66" y="497.19" width="2.2" height="1.3" fill="#7d7d86" opacity="0.8"/><rect x="325.28" y="336.89" width="2.2" height="90.31" fill="#1f1c52"/><rect x="325.28" y="329.32" width="2.2" height="7.57" fill="#cf4262"/><rect x="325.28" y="327.24" width="2.2" height="2.09" fill="#aeaad8"/><rect x="325.28" y="427.20" width="2.2" height="66.29" fill="#36ad9f"/><rect x="325.28" y="326.94" width="2.2" height="1.3" fill="#7d7d86" opacity="0.8"/><rect x="325.28" y="492.49" width="2.2" height="1.3" fill="#7d7d86" opacity="0.8"/><rect x="328.90" y="390.14" width="2.2" height="37.06" fill="#1f1c52"/><rect x="328.90" y="350.20" width="2.2" height="39.93" fill="#cf4262"/><rect x="328.90" y="343.68" width="2.2" height="6.53" fill="#eed24a"/><rect x="328.90" y="340.55" width="2.2" height="3.13" fill="#6b9ad6"/><rect x="328.90" y="427.20" width="2.2" height="35.76" fill="#36ad9f"/><rect x="328.90" y="340.25" width="2.2" height="1.3" fill="#7d7d86" opacity="0.8"/><rect x="328.90" y="461.96" width="2.2" height="1.3" fill="#7d7d86" opacity="0.8"/><rect x="339.77" y="308.44" width="2.2" height="118.75" fill="#1f1c52"/><rect x="339.77" y="304.53" width="2.2" height="3.92" fill="#eed24a"/><rect x="339.77" y="299.57" width="2.2" height="4.96" fill="#6b9ad6"/><rect x="339.77" y="427.20" width="2.2" height="166.52" fill="#36ad9f"/><rect x="339.77" y="299.27" width="2.2" height="1.3" fill="#7d7d86" opacity="0.8"/><rect x="339.77" y="592.72" width="2.2" height="1.3" fill="#7d7d86" opacity="0.8"/><rect x="343.39" y="407.36" width="2.2" height="19.84" fill="#1f1c52"/><rect x="343.39" y="397.97" width="2.2" height="9.40" fill="#cf4262"/><rect x="343.39" y="427.20" width="2.2" height="114.84" fill="#36ad9f"/><rect x="343.39" y="397.67" width="2.2" height="1.3" fill="#7d7d86" opacity="0.8"/><rect x="343.39" y="541.04" width="2.2" height="1.3" fill="#7d7d86" opacity="0.8"/><rect x="347.01" y="414.15" width="2.2" height="13.05" fill="#1f1c52"/><rect x="347.01" y="399.01" width="2.2" height="15.14" fill="#cf4262"/><rect x="347.01" y="394.57" width="2.2" height="4.44" fill="#aeaad8"/><rect x="347.01" y="392.23" width="2.2" height="2.35" fill="#eed24a"/><rect x="347.01" y="427.20" width="2.2" height="102.31" fill="#36ad9f"/><rect x="347.01" y="391.93" width="2.2" height="1.3" fill="#7d7d86" opacity="0.8"/><rect x="347.01" y="528.51" width="2.2" height="1.3" fill="#7d7d86" opacity="0.8"/><rect x="350.63" y="366.65" width="2.2" height="60.55" fill="#1f1c52"/><rect x="350.63" y="359.86" width="2.2" height="6.79" fill="#6b9ad6"/><rect x="350.63" y="427.20" width="2.2" height="93.70" fill="#36ad9f"/><rect x="350.63" y="359.56" width="2.2" height="1.3" fill="#7d7d86" opacity="0.8"/><rect x="350.63" y="519.90" width="2.2" height="1.3" fill="#7d7d86" opacity="0.8"/><rect x="354.25" y="421.72" width="2.2" height="5.48" fill="#1f1c52"/><rect x="354.25" y="417.02" width="2.2" height="4.70" fill="#cf4262"/><rect x="354.25" y="402.67" width="2.2" height="14.36" fill="#aeaad8"/><rect x="354.25" y="397.97" width="2.2" height="4.70" fill="#eed24a"/><rect x="354.25" y="427.20" width="2.2" height="43.33" fill="#36ad9f"/><rect x="354.25" y="397.67" width="2.2" height="1.3" fill="#7d7d86" opacity="0.8"/><rect x="354.25" y="469.53" width="2.2" height="1.3" fill="#7d7d86" opacity="0.8"/><rect x="365.11" y="417.80" width="2.2" height="9.40" fill="#1f1c52"/><rect x="365.11" y="348.38" width="2.2" height="69.43" fill="#cf4262"/><rect x="365.11" y="337.94" width="2.2" height="10.44" fill="#6b9ad6"/><rect x="365.11" y="332.20" width="2.2" height="5.74" fill="#eed24a"/><rect x="365.11" y="427.20" width="2.2" height="91.09" fill="#36ad9f"/><rect x="365.11" y="331.90" width="2.2" height="1.3" fill="#7d7d86" opacity="0.8"/><rect x="365.11" y="517.29" width="2.2" height="1.3" fill="#7d7d86" opacity="0.8"/><rect x="368.73" y="384.66" width="2.2" height="42.54" fill="#1f1c52"/><rect x="368.73" y="312.62" width="2.2" height="72.04" fill="#cf4262"/><rect x="368.73" y="293.31" width="2.2" height="19.31" fill="#aeaad8"/><rect x="368.73" y="288.61" width="2.2" height="4.70" fill="#eed24a"/><rect x="368.73" y="279.74" width="2.2" height="8.87" fill="#38adbd"/><rect x="368.73" y="274.51" width="2.2" height="5.22" fill="#6b9ad6"/><rect x="368.73" y="270.60" width="2.2" height="3.91" fill="#e06870"/><rect x="368.73" y="262.77" width="2.2" height="7.83" fill="#ecc048"/><rect x="368.73" y="427.20" width="2.2" height="54.81" fill="#36ad9f"/><rect x="368.73" y="262.47" width="2.2" height="1.3" fill="#7d7d86" opacity="0.8"/><rect x="368.73" y="481.01" width="2.2" height="1.3" fill="#7d7d86" opacity="0.8"/><rect x="372.36" y="343.16" width="2.2" height="84.04" fill="#1f1c52"/><rect x="372.36" y="288.35" width="2.2" height="54.81" fill="#aeaad8"/><rect x="372.36" y="286.52" width="2.2" height="1.83" fill="#6b9ad6"/><rect x="372.36" y="427.20" width="2.2" height="78.56" fill="#36ad9f"/><rect x="372.36" y="286.22" width="2.2" height="1.3" fill="#7d7d86" opacity="0.8"/><rect x="372.36" y="504.76" width="2.2" height="1.3" fill="#7d7d86" opacity="0.8"/><rect x="375.98" y="401.62" width="2.2" height="25.58" fill="#1f1c52"/><rect x="375.98" y="384.66" width="2.2" height="16.97" fill="#cf4262"/><rect x="375.98" y="377.87" width="2.2" height="6.79" fill="#aeaad8"/><rect x="375.98" y="358.82" width="2.2" height="19.05" fill="#eed24a"/><rect x="375.98" y="352.29" width="2.2" height="6.52" fill="#6b9ad6"/><rect x="375.98" y="427.20" width="2.2" height="27.14" fill="#36ad9f"/><rect x="375.98" y="351.99" width="2.2" height="1.3" fill="#7d7d86" opacity="0.8"/><rect x="375.98" y="453.34" width="2.2" height="1.3" fill="#7d7d86" opacity="0.8"/><rect x="390.46" y="383.61" width="2.2" height="43.59" fill="#1f1c52"/><rect x="390.46" y="371.35" width="2.2" height="12.27" fill="#cf4262"/><rect x="390.46" y="427.20" width="2.2" height="78.56" fill="#36ad9f"/><rect x="390.46" y="371.05" width="2.2" height="1.3" fill="#7d7d86" opacity="0.8"/><rect x="390.46" y="504.76" width="2.2" height="1.3" fill="#7d7d86" opacity="0.8"/><rect x="394.08" y="387.53" width="2.2" height="39.67" fill="#1f1c52"/><rect x="394.08" y="373.17" width="2.2" height="14.35" fill="#cf4262"/><rect x="394.08" y="427.20" width="2.2" height="19.57" fill="#36ad9f"/><rect x="394.08" y="446.77" width="2.2" height="23.75" fill="#aeaad8"/><rect x="394.08" y="372.87" width="2.2" height="1.3" fill="#7d7d86" opacity="0.8"/><rect x="394.08" y="469.53" width="2.2" height="1.3" fill="#7d7d86" opacity="0.8"/><rect x="397.70" y="415.98" width="2.2" height="11.22" fill="#1f1c52"/><rect x="397.70" y="385.70" width="2.2" height="30.28" fill="#cf4262"/><rect x="397.70" y="377.87" width="2.2" height="7.83" fill="#eed24a"/><rect x="397.70" y="427.20" width="2.2" height="18.79" fill="#36ad9f"/><rect x="397.70" y="377.57" width="2.2" height="1.3" fill="#7d7d86" opacity="0.8"/><rect x="397.70" y="444.99" width="2.2" height="1.3" fill="#7d7d86" opacity="0.8"/><rect x="401.32" y="389.36" width="2.2" height="37.84" fill="#1f1c52"/><rect x="401.32" y="361.69" width="2.2" height="27.67" fill="#cf4262"/><rect x="401.32" y="353.08" width="2.2" height="8.61" fill="#6b9ad6"/><rect x="401.32" y="427.20" width="2.2" height="19.84" fill="#36ad9f"/><rect x="401.32" y="352.78" width="2.2" height="1.3" fill="#7d7d86" opacity="0.8"/><rect x="401.32" y="446.04" width="2.2" height="1.3" fill="#7d7d86" opacity="0.8"/><rect x="404.94" y="346.55" width="2.2" height="80.65" fill="#1f1c52"/><rect x="404.94" y="323.84" width="2.2" height="22.71" fill="#cf4262"/><rect x="404.94" y="427.20" width="2.2" height="51.94" fill="#36ad9f"/><rect x="404.94" y="323.54" width="2.2" height="1.3" fill="#7d7d86" opacity="0.8"/><rect x="404.94" y="478.14" width="2.2" height="1.3" fill="#7d7d86" opacity="0.8"/><rect x="415.81" y="420.68" width="2.2" height="6.52" fill="#1f1c52"/><rect x="415.81" y="407.36" width="2.2" height="13.31" fill="#eed24a"/><rect x="415.81" y="427.20" width="2.2" height="78.56" fill="#36ad9f"/><rect x="415.81" y="407.06" width="2.2" height="1.3" fill="#7d7d86" opacity="0.8"/><rect x="415.81" y="504.76" width="2.2" height="1.3" fill="#7d7d86" opacity="0.8"/><rect x="419.43" y="393.27" width="2.2" height="33.93" fill="#1f1c52"/><rect x="419.43" y="427.20" width="2.2" height="39.67" fill="#36ad9f"/><rect x="419.43" y="392.97" width="2.2" height="1.3" fill="#7d7d86" opacity="0.8"/><rect x="419.43" y="465.87" width="2.2" height="1.3" fill="#7d7d86" opacity="0.8"/><rect x="423.05" y="418.85" width="2.2" height="8.35" fill="#1f1c52"/><rect x="423.05" y="399.01" width="2.2" height="19.84" fill="#cf4262"/><rect x="423.05" y="391.18" width="2.2" height="7.83" fill="#eed24a"/><rect x="423.05" y="427.20" width="2.2" height="3.39" fill="#36ad9f"/><rect x="423.05" y="390.88" width="2.2" height="1.3" fill="#7d7d86" opacity="0.8"/><rect x="423.05" y="429.59" width="2.2" height="1.3" fill="#7d7d86" opacity="0.8"/><rect x="426.67" y="376.04" width="2.2" height="51.16" fill="#1f1c52"/><rect x="426.67" y="371.35" width="2.2" height="4.70" fill="#6b9ad6"/><rect x="426.67" y="427.20" width="2.2" height="31.06" fill="#36ad9f"/><rect x="426.67" y="371.05" width="2.2" height="1.3" fill="#7d7d86" opacity="0.8"/><rect x="426.67" y="457.26" width="2.2" height="1.3" fill="#7d7d86" opacity="0.8"/><rect x="430.29" y="399.01" width="2.2" height="28.19" fill="#1f1c52"/><rect x="430.29" y="427.20" width="2.2" height="42.54" fill="#36ad9f"/><rect x="430.29" y="398.71" width="2.2" height="1.3" fill="#7d7d86" opacity="0.8"/><rect x="430.29" y="468.74" width="2.2" height="1.3" fill="#7d7d86" opacity="0.8"/><rect x="441.15" y="408.41" width="2.2" height="18.79" fill="#1f1c52"/><rect x="441.15" y="427.20" width="2.2" height="27.14" fill="#36ad9f"/><rect x="441.15" y="408.11" width="2.2" height="1.3" fill="#7d7d86" opacity="0.8"/><rect x="441.15" y="453.34" width="2.2" height="1.3" fill="#7d7d86" opacity="0.8"/><rect x="444.77" y="419.89" width="2.2" height="7.31" fill="#1f1c52"/><rect x="444.77" y="427.20" width="2.2" height="22.45" fill="#36ad9f"/><rect x="444.77" y="419.59" width="2.2" height="1.3" fill="#7d7d86" opacity="0.8"/><rect x="444.77" y="448.65" width="2.2" height="1.3" fill="#7d7d86" opacity="0.8"/><rect x="448.40" y="422.50" width="2.2" height="4.70" fill="#1f1c52"/><rect x="448.40" y="427.20" width="2.2" height="35.76" fill="#36ad9f"/><rect x="448.40" y="462.96" width="2.2" height="9.66" fill="#aeaad8"/><rect x="448.40" y="422.20" width="2.2" height="1.3" fill="#7d7d86" opacity="0.8"/><rect x="448.40" y="471.61" width="2.2" height="1.3" fill="#7d7d86" opacity="0.8"/><rect x="452.02" y="422.50" width="2.2" height="4.70" fill="#1f1c52"/><rect x="452.02" y="412.32" width="2.2" height="10.18" fill="#cf4262"/><rect x="452.02" y="405.54" width="2.2" height="6.79" fill="#eed24a"/><rect x="452.02" y="427.20" width="2.2" height="22.45" fill="#36ad9f"/><rect x="452.02" y="405.24" width="2.2" height="1.3" fill="#7d7d86" opacity="0.8"/><rect x="452.02" y="448.65" width="2.2" height="1.3" fill="#7d7d86" opacity="0.8"/><rect x="455.64" y="419.89" width="2.2" height="7.31" fill="#1f1c52"/><rect x="455.64" y="404.49" width="2.2" height="15.40" fill="#cf4262"/><rect x="455.64" y="399.79" width="2.2" height="4.70" fill="#eed24a"/><rect x="455.64" y="427.20" width="2.2" height="11.22" fill="#36ad9f"/><rect x="455.64" y="399.49" width="2.2" height="1.3" fill="#7d7d86" opacity="0.8"/><rect x="455.64" y="437.42" width="2.2" height="1.3" fill="#7d7d86" opacity="0.8"/><rect x="466.50" y="422.24" width="2.2" height="4.96" fill="#1f1c52"/><rect x="466.50" y="418.59" width="2.2" height="3.65" fill="#cf4262"/><rect x="466.50" y="406.32" width="2.2" height="12.27" fill="#aeaad8"/><rect x="466.50" y="403.45" width="2.2" height="2.87" fill="#6b9ad6"/><rect x="466.50" y="427.20" width="2.2" height="8.87" fill="#36ad9f"/><rect x="466.50" y="403.15" width="2.2" height="1.3" fill="#7d7d86" opacity="0.8"/><rect x="466.50" y="435.07" width="2.2" height="1.3" fill="#7d7d86" opacity="0.8"/><rect x="470.12" y="417.28" width="2.2" height="9.92" fill="#1f1c52"/><rect x="470.12" y="411.80" width="2.2" height="5.48" fill="#cf4262"/><rect x="470.12" y="403.45" width="2.2" height="8.35" fill="#aeaad8"/><rect x="470.12" y="401.10" width="2.2" height="2.35" fill="#eed24a"/><rect x="470.12" y="427.20" width="2.2" height="16.96" fill="#36ad9f"/><rect x="470.12" y="400.80" width="2.2" height="1.3" fill="#7d7d86" opacity="0.8"/><rect x="470.12" y="443.16" width="2.2" height="1.3" fill="#7d7d86" opacity="0.8"/><rect x="473.74" y="426.16" width="2.2" height="1.04" fill="#cf4262"/><rect x="473.74" y="427.20" width="2.2" height="32.89" fill="#36ad9f"/><rect x="473.74" y="425.86" width="2.2" height="1.3" fill="#7d7d86" opacity="0.8"/><rect x="473.74" y="459.09" width="2.2" height="1.3" fill="#7d7d86" opacity="0.8"/><rect x="477.36" y="427.20" width="2.2" height="4.70" fill="#cf4262"/><rect x="477.36" y="431.90" width="2.2" height="34.45" fill="#36ad9f"/><rect x="477.36" y="466.35" width="2.2" height="11.75" fill="#aeaad8"/><rect x="477.36" y="478.09" width="2.2" height="6.26" fill="#e06870"/><rect x="477.36" y="483.36" width="2.2" height="1.3" fill="#7d7d86" opacity="0.8"/><rect x="480.99" y="427.20" width="2.2" height="21.66" fill="#36ad9f"/><rect x="480.99" y="447.86" width="2.2" height="1.3" fill="#7d7d86" opacity="0.8"/><rect x="491.85" y="425.11" width="2.2" height="2.09" fill="#eed24a"/><rect x="491.85" y="427.20" width="2.2" height="10.44" fill="#aeaad8"/><rect x="491.85" y="437.64" width="2.2" height="5.74" fill="#6b9ad6"/><rect x="491.85" y="424.81" width="2.2" height="1.3" fill="#7d7d86" opacity="0.8"/><rect x="491.85" y="442.38" width="2.2" height="1.3" fill="#7d7d86" opacity="0.8"/><rect x="495.47" y="426.16" width="2.2" height="1.04" fill="#1f1c52"/><rect x="495.47" y="427.20" width="2.2" height="32.89" fill="#36ad9f"/><rect x="495.47" y="460.09" width="2.2" height="9.66" fill="#eed24a"/><rect x="495.47" y="425.86" width="2.2" height="1.3" fill="#7d7d86" opacity="0.8"/><rect x="495.47" y="468.74" width="2.2" height="1.3" fill="#7d7d86" opacity="0.8"/><rect x="499.09" y="423.55" width="2.2" height="3.65" fill="#36ad9f"/><rect x="499.09" y="427.20" width="2.2" height="8.87" fill="#1f1c52"/><rect x="499.09" y="436.07" width="2.2" height="51.16" fill="#cf4262"/><rect x="499.09" y="487.23" width="2.2" height="42.54" fill="#36ad9f"/><rect x="499.09" y="529.77" width="2.2" height="25.84" fill="#aeaad8"/><rect x="499.09" y="555.61" width="2.2" height="9.92" fill="#eed24a"/><rect x="499.09" y="565.53" width="2.2" height="4.70" fill="#e06870"/><rect x="499.09" y="570.23" width="2.2" height="3.13" fill="#ecc048"/><rect x="499.09" y="423.25" width="2.2" height="1.3" fill="#7d7d86" opacity="0.8"/><rect x="499.09" y="572.36" width="2.2" height="1.3" fill="#7d7d86" opacity="0.8"/><rect x="502.71" y="427.20" width="2.2" height="13.57" fill="#36ad9f"/><rect x="502.71" y="439.77" width="2.2" height="1.3" fill="#7d7d86" opacity="0.8"/><rect x="506.33" y="424.59" width="2.2" height="2.61" fill="#1f1c52"/><rect x="506.33" y="399.01" width="2.2" height="25.58" fill="#cf4262"/><rect x="506.33" y="381.79" width="2.2" height="17.23" fill="#36ad9f"/><rect x="506.33" y="375.00" width="2.2" height="6.79" fill="#aeaad8"/><rect x="506.33" y="368.47" width="2.2" height="6.53" fill="#eed24a"/><rect x="506.33" y="364.56" width="2.2" height="3.91" fill="#38adbd"/><rect x="506.33" y="355.42" width="2.2" height="9.14" fill="#6b9ad6"/><rect x="506.33" y="345.77" width="2.2" height="9.66" fill="#e06870"/><rect x="506.33" y="328.80" width="2.2" height="16.96" fill="#ecc048"/><rect x="506.33" y="328.50" width="2.2" height="1.3" fill="#7d7d86" opacity="0.8"/><rect x="517.20" y="420.68" width="2.2" height="6.52" fill="#1f1c52"/><rect x="517.20" y="395.62" width="2.2" height="25.06" fill="#cf4262"/><rect x="517.20" y="371.35" width="2.2" height="24.27" fill="#aeaad8"/><rect x="517.20" y="371.05" width="2.2" height="1.3" fill="#7d7d86" opacity="0.8"/><rect x="520.82" y="427.20" width="2.2" height="7.31" fill="#36ad9f"/><rect x="520.82" y="433.51" width="2.2" height="1.3" fill="#7d7d86" opacity="0.8"/><rect x="524.44" y="427.20" width="2.2" height="1.31" fill="#36ad9f"/><rect x="524.44" y="427.50" width="2.2" height="1.3" fill="#7d7d86" opacity="0.8"/><rect x="528.06" y="423.02" width="2.2" height="4.18" fill="#1f1c52"/><rect x="528.06" y="419.11" width="2.2" height="3.92" fill="#e06870"/><rect x="528.06" y="427.20" width="2.2" height="10.44" fill="#36ad9f"/><rect x="528.06" y="418.81" width="2.2" height="1.3" fill="#7d7d86" opacity="0.8"/><rect x="528.06" y="436.64" width="2.2" height="1.3" fill="#7d7d86" opacity="0.8"/><rect x="531.68" y="423.02" width="2.2" height="4.18" fill="#1f1c52"/><rect x="531.68" y="427.20" width="2.2" height="26.62" fill="#36ad9f"/><rect x="531.68" y="422.72" width="2.2" height="1.3" fill="#7d7d86" opacity="0.8"/><rect x="531.68" y="452.82" width="2.2" height="1.3" fill="#7d7d86" opacity="0.8"/><rect x="542.54" y="418.33" width="2.2" height="8.87" fill="#cf4262"/><rect x="542.54" y="411.02" width="2.2" height="7.31" fill="#eed24a"/><rect x="542.54" y="410.72" width="2.2" height="1.3" fill="#7d7d86" opacity="0.8"/><rect x="546.16" y="388.57" width="2.2" height="38.63" fill="#aeaad8"/><rect x="546.16" y="427.20" width="2.2" height="12.79" fill="#36ad9f"/><rect x="546.16" y="388.27" width="2.2" height="1.3" fill="#7d7d86" opacity="0.8"/><rect x="546.16" y="438.99" width="2.2" height="1.3" fill="#7d7d86" opacity="0.8"/><rect x="549.78" y="392.23" width="2.2" height="34.97" fill="#cf4262"/><rect x="549.78" y="385.96" width="2.2" height="6.26" fill="#36ad9f"/><rect x="549.78" y="376.31" width="2.2" height="9.66" fill="#aeaad8"/><rect x="549.78" y="356.99" width="2.2" height="19.31" fill="#eed24a"/><rect x="549.78" y="349.68" width="2.2" height="7.31" fill="#6b9ad6"/><rect x="549.78" y="349.38" width="2.2" height="1.3" fill="#7d7d86" opacity="0.8"/><rect x="553.40" y="403.71" width="2.2" height="23.49" fill="#1f1c52"/><rect x="553.40" y="385.18" width="2.2" height="18.53" fill="#cf4262"/><rect x="553.40" y="376.31" width="2.2" height="8.87" fill="#aeaad8"/><rect x="553.40" y="361.69" width="2.2" height="14.62" fill="#eed24a"/><rect x="553.40" y="361.39" width="2.2" height="1.3" fill="#7d7d86" opacity="0.8"/><rect x="557.03" y="418.33" width="2.2" height="8.87" fill="#1f1c52"/><rect x="557.03" y="390.92" width="2.2" height="27.40" fill="#cf4262"/><rect x="557.03" y="383.87" width="2.2" height="7.05" fill="#36ad9f"/><rect x="557.03" y="370.04" width="2.2" height="13.83" fill="#aeaad8"/><rect x="557.03" y="369.74" width="2.2" height="1.3" fill="#7d7d86" opacity="0.8"/><rect x="567.89" y="411.02" width="2.2" height="16.18" fill="#1f1c52"/><rect x="567.89" y="392.23" width="2.2" height="18.79" fill="#cf4262"/><rect x="567.89" y="373.17" width="2.2" height="19.05" fill="#aeaad8"/><rect x="567.89" y="366.65" width="2.2" height="6.53" fill="#eed24a"/><rect x="567.89" y="366.35" width="2.2" height="1.3" fill="#7d7d86" opacity="0.8"/><rect x="571.51" y="351.25" width="2.2" height="75.95" fill="#1f1c52"/><rect x="571.51" y="344.99" width="2.2" height="6.26" fill="#cf4262"/><rect x="571.51" y="344.69" width="2.2" height="1.3" fill="#7d7d86" opacity="0.8"/><rect x="575.13" y="403.71" width="2.2" height="23.49" fill="#1f1c52"/><rect x="575.13" y="384.40" width="2.2" height="19.31" fill="#cf4262"/><rect x="575.13" y="427.20" width="2.2" height="3.13" fill="#36ad9f"/><rect x="575.13" y="384.10" width="2.2" height="1.3" fill="#7d7d86" opacity="0.8"/><rect x="575.13" y="429.33" width="2.2" height="1.3" fill="#7d7d86" opacity="0.8"/><rect x="578.75" y="403.71" width="2.2" height="23.49" fill="#1f1c52"/><rect x="578.75" y="397.97" width="2.2" height="5.74" fill="#cf4262"/><rect x="578.75" y="396.14" width="2.2" height="1.83" fill="#aeaad8"/><rect x="578.75" y="427.20" width="2.2" height="3.13" fill="#36ad9f"/><rect x="578.75" y="395.84" width="2.2" height="1.3" fill="#7d7d86" opacity="0.8"/><rect x="578.75" y="429.33" width="2.2" height="1.3" fill="#7d7d86" opacity="0.8"/><rect x="582.37" y="379.70" width="2.2" height="47.50" fill="#1f1c52"/><rect x="582.37" y="368.47" width="2.2" height="11.22" fill="#cf4262"/><rect x="582.37" y="361.69" width="2.2" height="6.79" fill="#6b9ad6"/><rect x="582.37" y="361.39" width="2.2" height="1.3" fill="#7d7d86" opacity="0.8"/><rect x="596.86" y="399.79" width="2.2" height="27.41" fill="#1f1c52"/><rect x="596.86" y="390.40" width="2.2" height="9.40" fill="#cf4262"/><rect x="596.86" y="387.79" width="2.2" height="2.61" fill="#eed24a"/><rect x="596.86" y="427.20" width="2.2" height="26.62" fill="#36ad9f"/><rect x="596.86" y="387.49" width="2.2" height="1.3" fill="#7d7d86" opacity="0.8"/><rect x="596.86" y="452.82" width="2.2" height="1.3" fill="#7d7d86" opacity="0.8"/><rect x="600.48" y="421.72" width="2.2" height="5.48" fill="#1f1c52"/><rect x="600.48" y="415.98" width="2.2" height="5.74" fill="#cf4262"/><rect x="600.48" y="427.20" width="2.2" height="8.09" fill="#36ad9f"/><rect x="600.48" y="415.68" width="2.2" height="1.3" fill="#7d7d86" opacity="0.8"/><rect x="600.48" y="434.29" width="2.2" height="1.3" fill="#7d7d86" opacity="0.8"/><rect x="604.10" y="425.89" width="2.2" height="1.31" fill="#1f1c52"/><rect x="604.10" y="395.10" width="2.2" height="30.80" fill="#cf4262"/><rect x="604.10" y="388.31" width="2.2" height="6.79" fill="#eed24a"/><rect x="604.10" y="427.20" width="2.2" height="25.06" fill="#aeaad8"/><rect x="604.10" y="388.01" width="2.2" height="1.3" fill="#7d7d86" opacity="0.8"/><rect x="604.10" y="451.26" width="2.2" height="1.3" fill="#7d7d86" opacity="0.8"/><rect x="607.72" y="381.79" width="2.2" height="45.41" fill="#1f1c52"/><rect x="607.72" y="427.20" width="2.2" height="32.10" fill="#36ad9f"/><rect x="607.72" y="381.49" width="2.2" height="1.3" fill="#7d7d86" opacity="0.8"/><rect x="607.72" y="458.30" width="2.2" height="1.3" fill="#7d7d86" opacity="0.8"/><rect x="618.58" y="406.58" width="2.2" height="20.62" fill="#cf4262"/><rect x="618.58" y="399.79" width="2.2" height="6.79" fill="#eed24a"/><rect x="618.58" y="399.49" width="2.2" height="1.3" fill="#7d7d86" opacity="0.8"/><rect x="622.20" y="355.42" width="2.2" height="71.78" fill="#1f1c52"/><rect x="622.20" y="257.03" width="2.2" height="98.40" fill="#cf4262"/><rect x="622.20" y="249.46" width="2.2" height="7.57" fill="#36ad9f"/><rect x="622.20" y="215.01" width="2.2" height="34.45" fill="#aeaad8"/><rect x="622.20" y="196.21" width="2.2" height="18.79" fill="#eed24a"/><rect x="622.20" y="195.91" width="2.2" height="1.3" fill="#7d7d86" opacity="0.8"/><rect x="625.82" y="386.48" width="2.2" height="40.72" fill="#1f1c52"/><rect x="625.82" y="330.37" width="2.2" height="56.12" fill="#cf4262"/><rect x="625.82" y="326.71" width="2.2" height="3.65" fill="#36ad9f"/><rect x="625.82" y="312.36" width="2.2" height="14.35" fill="#aeaad8"/><rect x="625.82" y="304.53" width="2.2" height="7.83" fill="#eed24a"/><rect x="625.82" y="301.14" width="2.2" height="3.39" fill="#6b9ad6"/><rect x="625.82" y="300.84" width="2.2" height="1.3" fill="#7d7d86" opacity="0.8"/><rect x="629.45" y="335.59" width="2.2" height="91.61" fill="#1f1c52"/><rect x="629.45" y="427.20" width="2.2" height="35.24" fill="#aeaad8"/><rect x="629.45" y="335.29" width="2.2" height="1.3" fill="#7d7d86" opacity="0.8"/><rect x="629.45" y="461.44" width="2.2" height="1.3" fill="#7d7d86" opacity="0.8"/><rect x="633.07" y="382.83" width="2.2" height="44.37" fill="#1f1c52"/><rect x="633.07" y="427.20" width="2.2" height="8.87" fill="#36ad9f"/><rect x="633.07" y="382.53" width="2.2" height="1.3" fill="#7d7d86" opacity="0.8"/><rect x="633.07" y="435.07" width="2.2" height="1.3" fill="#7d7d86" opacity="0.8"/><rect x="643.93" y="427.20" width="2.2" height="16.18" fill="#36ad9f"/><rect x="643.93" y="443.38" width="2.2" height="2.61" fill="#aeaad8"/><rect x="643.93" y="444.99" width="2.2" height="1.3" fill="#7d7d86" opacity="0.8"/><rect x="647.55" y="427.20" width="2.2" height="39.41" fill="#36ad9f"/><rect x="647.55" y="466.61" width="2.2" height="9.66" fill="#aeaad8"/><rect x="647.55" y="476.27" width="2.2" height="2.09" fill="#eed24a"/><rect x="647.55" y="477.36" width="2.2" height="1.3" fill="#7d7d86" opacity="0.8"/><rect x="651.17" y="423.28" width="2.2" height="3.92" fill="#1f1c52"/><rect x="651.17" y="408.67" width="2.2" height="14.62" fill="#cf4262"/><rect x="651.17" y="401.88" width="2.2" height="6.79" fill="#eed24a"/><rect x="651.17" y="401.58" width="2.2" height="1.3" fill="#7d7d86" opacity="0.8"/><rect x="654.79" y="421.72" width="2.2" height="5.48" fill="#1f1c52"/><rect x="654.79" y="427.20" width="2.2" height="26.36" fill="#cf4262"/><rect x="654.79" y="453.56" width="2.2" height="19.31" fill="#36ad9f"/><rect x="654.79" y="472.88" width="2.2" height="16.18" fill="#aeaad8"/><rect x="654.79" y="421.42" width="2.2" height="1.3" fill="#7d7d86" opacity="0.8"/><rect x="654.79" y="488.06" width="2.2" height="1.3" fill="#7d7d86" opacity="0.8"/><rect x="658.41" y="427.20" width="2.2" height="21.66" fill="#cf4262"/><rect x="658.41" y="448.86" width="2.2" height="27.40" fill="#36ad9f"/><rect x="658.41" y="475.27" width="2.2" height="1.3" fill="#7d7d86" opacity="0.8"/><rect x="669.28" y="427.20" width="2.2" height="23.23" fill="#cf4262"/><rect x="669.28" y="450.43" width="2.2" height="14.62" fill="#aeaad8"/><rect x="669.28" y="464.04" width="2.2" height="1.3" fill="#7d7d86" opacity="0.8"/><rect x="672.90" y="427.20" width="2.2" height="21.66" fill="#cf4262"/><rect x="672.90" y="448.86" width="2.2" height="16.18" fill="#36ad9f"/><rect x="672.90" y="464.04" width="2.2" height="1.3" fill="#7d7d86" opacity="0.8"/><rect x="680.14" y="427.20" width="2.2" height="12.01" fill="#cf4262"/><rect x="680.14" y="439.21" width="2.2" height="15.40" fill="#36ad9f"/><rect x="680.14" y="454.61" width="2.2" height="8.87" fill="#eed24a"/><rect x="680.14" y="462.48" width="2.2" height="1.3" fill="#7d7d86" opacity="0.8"/><rect x="683.76" y="427.20" width="2.2" height="12.01" fill="#cf4262"/><rect x="683.76" y="439.21" width="2.2" height="15.40" fill="#36ad9f"/><rect x="683.76" y="453.61" width="2.2" height="1.3" fill="#7d7d86" opacity="0.8"/><rect x="694.62" y="427.20" width="2.2" height="10.44" fill="#cf4262"/><rect x="694.62" y="437.64" width="2.2" height="26.62" fill="#36ad9f"/><rect x="694.62" y="464.26" width="2.2" height="8.87" fill="#aeaad8"/><rect x="694.62" y="472.14" width="2.2" height="1.3" fill="#7d7d86" opacity="0.8"/><rect x="698.25" y="415.19" width="2.2" height="12.01" fill="#cf4262"/><rect x="698.25" y="409.45" width="2.2" height="5.74" fill="#eed24a"/><rect x="698.25" y="427.20" width="2.2" height="8.87" fill="#36ad9f"/><rect x="698.25" y="409.15" width="2.2" height="1.3" fill="#7d7d86" opacity="0.8"/><rect x="698.25" y="435.07" width="2.2" height="1.3" fill="#7d7d86" opacity="0.8"/><rect x="701.87" y="420.94" width="2.2" height="6.26" fill="#cf4262"/><rect x="701.87" y="420.64" width="2.2" height="1.3" fill="#7d7d86" opacity="0.8"/><rect x="705.49" y="423.81" width="2.2" height="3.39" fill="#cf4262"/><rect x="705.49" y="427.20" width="2.2" height="2.35" fill="#36ad9f"/><rect x="705.49" y="423.51" width="2.2" height="1.3" fill="#7d7d86" opacity="0.8"/><rect x="705.49" y="428.55" width="2.2" height="1.3" fill="#7d7d86" opacity="0.8"/><rect x="709.11" y="406.58" width="2.2" height="20.62" fill="#1f1c52"/><rect x="709.11" y="395.36" width="2.2" height="11.22" fill="#aeaad8"/><rect x="709.11" y="427.20" width="2.2" height="13.57" fill="#36ad9f"/><rect x="709.11" y="395.06" width="2.2" height="1.3" fill="#7d7d86" opacity="0.8"/><rect x="709.11" y="439.77" width="2.2" height="1.3" fill="#7d7d86" opacity="0.8"/><rect x="719.97" y="409.45" width="2.2" height="17.75" fill="#cf4262"/><rect x="719.97" y="398.23" width="2.2" height="11.22" fill="#eed24a"/><rect x="719.97" y="394.57" width="2.2" height="3.65" fill="#6b9ad6"/><rect x="719.97" y="394.27" width="2.2" height="1.3" fill="#7d7d86" opacity="0.8"/><rect x="723.59" y="424.85" width="2.2" height="2.35" fill="#1f1c52"/><rect x="723.59" y="420.94" width="2.2" height="3.92" fill="#aeaad8"/><rect x="723.59" y="427.20" width="2.2" height="8.87" fill="#36ad9f"/><rect x="723.59" y="420.64" width="2.2" height="1.3" fill="#7d7d86" opacity="0.8"/><rect x="723.59" y="435.07" width="2.2" height="1.3" fill="#7d7d86" opacity="0.8"/><rect x="727.21" y="427.20" width="2.2" height="6.52" fill="#36ad9f"/><rect x="727.21" y="432.72" width="2.2" height="1.3" fill="#7d7d86" opacity="0.8"/><rect x="734.46" y="397.19" width="2.2" height="30.01" fill="#cf4262"/><rect x="734.46" y="382.83" width="2.2" height="14.36" fill="#eed24a"/><rect x="734.46" y="427.20" width="2.2" height="7.31" fill="#36ad9f"/><rect x="734.46" y="382.53" width="2.2" height="1.3" fill="#7d7d86" opacity="0.8"/><rect x="734.46" y="433.51" width="2.2" height="1.3" fill="#7d7d86" opacity="0.8"/><rect x="745.32" y="378.91" width="2.2" height="48.29" fill="#1f1c52"/><rect x="745.32" y="363.78" width="2.2" height="15.14" fill="#cf4262"/><rect x="745.32" y="356.21" width="2.2" height="7.57" fill="#36ad9f"/><rect x="745.32" y="350.47" width="2.2" height="5.74" fill="#6b9ad6"/><rect x="745.32" y="350.17" width="2.2" height="1.3" fill="#7d7d86" opacity="0.8"/><rect x="748.94" y="395.88" width="2.2" height="31.32" fill="#1f1c52"/><rect x="748.94" y="373.17" width="2.2" height="22.71" fill="#cf4262"/><rect x="748.94" y="359.86" width="2.2" height="13.31" fill="#aeaad8"/><rect x="748.94" y="427.20" width="2.2" height="9.66" fill="#36ad9f"/><rect x="748.94" y="359.56" width="2.2" height="1.3" fill="#7d7d86" opacity="0.8"/><rect x="748.94" y="435.86" width="2.2" height="1.3" fill="#7d7d86" opacity="0.8"/><rect x="752.56" y="421.98" width="2.2" height="5.22" fill="#1f1c52"/><rect x="752.56" y="406.58" width="2.2" height="15.40" fill="#cf4262"/><rect x="752.56" y="386.48" width="2.2" height="20.10" fill="#eed24a"/><rect x="752.56" y="386.18" width="2.2" height="1.3" fill="#7d7d86" opacity="0.8"/><rect x="756.18" y="408.41" width="2.2" height="18.79" fill="#1f1c52"/><rect x="756.18" y="400.06" width="2.2" height="8.35" fill="#cf4262"/><rect x="756.18" y="399.01" width="2.2" height="1.04" fill="#6b9ad6"/><rect x="756.18" y="427.20" width="2.2" height="8.87" fill="#36ad9f"/><rect x="756.18" y="398.71" width="2.2" height="1.3" fill="#7d7d86" opacity="0.8"/><rect x="756.18" y="435.07" width="2.2" height="1.3" fill="#7d7d86" opacity="0.8"/><rect x="759.80" y="395.88" width="2.2" height="31.32" fill="#1f1c52"/><rect x="759.80" y="365.60" width="2.2" height="30.28" fill="#cf4262"/><rect x="759.80" y="358.82" width="2.2" height="6.79" fill="#36ad9f"/><rect x="759.80" y="348.38" width="2.2" height="10.44" fill="#eed24a"/><rect x="759.80" y="348.08" width="2.2" height="1.3" fill="#7d7d86" opacity="0.8"/><rect x="770.67" y="396.66" width="2.2" height="30.54" fill="#1f1c52"/><rect x="770.67" y="386.48" width="2.2" height="10.18" fill="#cf4262"/><rect x="770.67" y="353.08" width="2.2" height="33.41" fill="#aeaad8"/><rect x="770.67" y="350.47" width="2.2" height="2.61" fill="#eed24a"/><rect x="770.67" y="350.17" width="2.2" height="1.3" fill="#7d7d86" opacity="0.8"/><rect x="774.29" y="359.86" width="2.2" height="67.34" fill="#1f1c52"/><rect x="774.29" y="342.90" width="2.2" height="16.96" fill="#cf4262"/><rect x="774.29" y="333.50" width="2.2" height="9.40" fill="#eed24a"/><rect x="774.29" y="322.80" width="2.2" height="10.70" fill="#38adbd"/><rect x="774.29" y="317.06" width="2.2" height="5.74" fill="#6b9ad6"/><rect x="774.29" y="316.76" width="2.2" height="1.3" fill="#7d7d86" opacity="0.8"/><rect x="777.91" y="397.97" width="2.2" height="29.23" fill="#1f1c52"/><rect x="777.91" y="427.20" width="2.2" height="13.57" fill="#36ad9f"/><rect x="777.91" y="397.67" width="2.2" height="1.3" fill="#7d7d86" opacity="0.8"/><rect x="777.91" y="439.77" width="2.2" height="1.3" fill="#7d7d86" opacity="0.8"/><rect x="781.53" y="399.79" width="2.2" height="27.41" fill="#1f1c52"/><rect x="781.53" y="427.20" width="2.2" height="18.53" fill="#aeaad8"/><rect x="781.53" y="399.49" width="2.2" height="1.3" fill="#7d7d86" opacity="0.8"/><rect x="781.53" y="444.73" width="2.2" height="1.3" fill="#7d7d86" opacity="0.8"/><rect x="785.15" y="397.97" width="2.2" height="29.23" fill="#1f1c52"/><rect x="785.15" y="360.91" width="2.2" height="37.06" fill="#cf4262"/><rect x="785.15" y="355.16" width="2.2" height="5.74" fill="#36ad9f"/><rect x="785.15" y="337.94" width="2.2" height="17.23" fill="#eed24a"/><rect x="785.15" y="324.63" width="2.2" height="13.31" fill="#38adbd"/><rect x="785.15" y="317.06" width="2.2" height="7.57" fill="#6b9ad6"/><rect x="785.15" y="316.76" width="2.2" height="1.3" fill="#7d7d86" opacity="0.8"/><rect x="796.01" y="289.39" width="2.2" height="137.81" fill="#1f1c52"/><rect x="796.01" y="284.69" width="2.2" height="4.70" fill="#cf4262"/><rect x="796.01" y="278.17" width="2.2" height="6.52" fill="#6b9ad6"/><rect x="796.01" y="427.20" width="2.2" height="9.13" fill="#eed24a"/><rect x="796.01" y="436.33" width="2.2" height="12.53" fill="#38adbd"/><rect x="796.01" y="277.87" width="2.2" height="1.3" fill="#7d7d86" opacity="0.8"/><rect x="796.01" y="447.86" width="2.2" height="1.3" fill="#7d7d86" opacity="0.8"/><rect x="799.63" y="408.41" width="2.2" height="18.79" fill="#1f1c52"/><rect x="799.63" y="427.20" width="2.2" height="26.10" fill="#aeaad8"/><rect x="799.63" y="453.30" width="2.2" height="12.27" fill="#eed24a"/><rect x="799.63" y="408.11" width="2.2" height="1.3" fill="#7d7d86" opacity="0.8"/><rect x="799.63" y="464.57" width="2.2" height="1.3" fill="#7d7d86" opacity="0.8"/><rect x="803.25" y="409.45" width="2.2" height="17.75" fill="#1f1c52"/><rect x="803.25" y="427.20" width="2.2" height="4.70" fill="#36ad9f"/><rect x="803.25" y="409.15" width="2.2" height="1.3" fill="#7d7d86" opacity="0.8"/><rect x="803.25" y="430.90" width="2.2" height="1.3" fill="#7d7d86" opacity="0.8"/><rect x="806.87" y="408.41" width="2.2" height="18.79" fill="#1f1c52"/><rect x="806.87" y="427.20" width="2.2" height="8.87" fill="#36ad9f"/><rect x="806.87" y="408.11" width="2.2" height="1.3" fill="#7d7d86" opacity="0.8"/><rect x="806.87" y="435.07" width="2.2" height="1.3" fill="#7d7d86" opacity="0.8"/><rect x="810.50" y="420.94" width="2.2" height="6.26" fill="#1f1c52"/><rect x="810.50" y="413.37" width="2.2" height="7.57" fill="#eed24a"/><rect x="810.50" y="406.58" width="2.2" height="6.79" fill="#38adbd"/><rect x="810.50" y="427.20" width="2.2" height="5.74" fill="#36ad9f"/><rect x="810.50" y="406.28" width="2.2" height="1.3" fill="#7d7d86" opacity="0.8"/><rect x="810.50" y="431.94" width="2.2" height="1.3" fill="#7d7d86" opacity="0.8"/><rect x="821.36" y="374.22" width="2.2" height="52.98" fill="#1f1c52"/><rect x="821.36" y="427.20" width="2.2" height="16.96" fill="#36ad9f"/><rect x="821.36" y="444.16" width="2.2" height="3.13" fill="#eed24a"/><rect x="821.36" y="373.92" width="2.2" height="1.3" fill="#7d7d86" opacity="0.8"/><rect x="821.36" y="446.30" width="2.2" height="1.3" fill="#7d7d86" opacity="0.8"/><rect x="824.98" y="408.41" width="2.2" height="18.79" fill="#1f1c52"/><rect x="824.98" y="427.20" width="2.2" height="22.19" fill="#36ad9f"/><rect x="824.98" y="449.38" width="2.2" height="1.31" fill="#6b9ad6"/><rect x="824.98" y="408.11" width="2.2" height="1.3" fill="#7d7d86" opacity="0.8"/><rect x="824.98" y="449.69" width="2.2" height="1.3" fill="#7d7d86" opacity="0.8"/><rect x="828.60" y="422.76" width="2.2" height="4.44" fill="#1f1c52"/><rect x="828.60" y="427.20" width="2.2" height="8.87" fill="#cf4262"/><rect x="828.60" y="422.46" width="2.2" height="1.3" fill="#7d7d86" opacity="0.8"/><rect x="828.60" y="435.07" width="2.2" height="1.3" fill="#7d7d86" opacity="0.8"/><rect x="832.22" y="420.94" width="2.2" height="6.26" fill="#1f1c52"/><rect x="832.22" y="427.20" width="2.2" height="10.44" fill="#cf4262"/><rect x="832.22" y="437.64" width="2.2" height="22.45" fill="#36ad9f"/><rect x="832.22" y="460.09" width="2.2" height="6.26" fill="#aeaad8"/><rect x="832.22" y="466.35" width="2.2" height="3.65" fill="#eed24a"/><rect x="832.22" y="420.64" width="2.2" height="1.3" fill="#7d7d86" opacity="0.8"/><rect x="832.22" y="469.00" width="2.2" height="1.3" fill="#7d7d86" opacity="0.8"/><rect x="835.84" y="416.24" width="2.2" height="10.96" fill="#1f1c52"/><rect x="835.84" y="427.20" width="2.2" height="26.62" fill="#cf4262"/><rect x="835.84" y="453.82" width="2.2" height="11.22" fill="#36ad9f"/><rect x="835.84" y="465.04" width="2.2" height="25.58" fill="#aeaad8"/><rect x="835.84" y="490.62" width="2.2" height="6.53" fill="#eed24a"/><rect x="835.84" y="497.15" width="2.2" height="5.74" fill="#38adbd"/><rect x="835.84" y="415.94" width="2.2" height="1.3" fill="#7d7d86" opacity="0.8"/><rect x="835.84" y="501.89" width="2.2" height="1.3" fill="#7d7d86" opacity="0.8"/><rect x="846.71" y="427.20" width="2.2" height="15.40" fill="#cf4262"/><rect x="846.71" y="442.60" width="2.2" height="14.36" fill="#36ad9f"/><rect x="846.71" y="456.95" width="2.2" height="20.88" fill="#aeaad8"/><rect x="846.71" y="476.83" width="2.2" height="1.3" fill="#7d7d86" opacity="0.8"/><rect x="850.33" y="427.20" width="2.2" height="15.40" fill="#cf4262"/><rect x="850.33" y="442.60" width="2.2" height="17.49" fill="#36ad9f"/><rect x="850.33" y="460.09" width="2.2" height="4.96" fill="#eed24a"/><rect x="850.33" y="464.04" width="2.2" height="1.3" fill="#7d7d86" opacity="0.8"/><rect x="853.95" y="414.15" width="2.2" height="13.05" fill="#1f1c52"/><rect x="853.95" y="411.54" width="2.2" height="2.61" fill="#6b9ad6"/><rect x="853.95" y="427.20" width="2.2" height="7.31" fill="#36ad9f"/><rect x="853.95" y="411.24" width="2.2" height="1.3" fill="#7d7d86" opacity="0.8"/><rect x="853.95" y="433.51" width="2.2" height="1.3" fill="#7d7d86" opacity="0.8"/><rect x="857.57" y="384.92" width="2.2" height="42.28" fill="#1f1c52"/><rect x="857.57" y="369.00" width="2.2" height="15.92" fill="#cf4262"/><rect x="857.57" y="359.86" width="2.2" height="9.13" fill="#aeaad8"/><rect x="857.57" y="328.80" width="2.2" height="31.06" fill="#6aae84"/><rect x="857.57" y="427.20" width="2.2" height="46.72" fill="#36ad9f"/><rect x="857.57" y="328.50" width="2.2" height="1.3" fill="#7d7d86" opacity="0.8"/><rect x="857.57" y="472.92" width="2.2" height="1.3" fill="#7d7d86" opacity="0.8"/><rect x="861.19" y="425.63" width="2.2" height="1.57" fill="#1f1c52"/><rect x="861.19" y="427.20" width="2.2" height="3.92" fill="#cf4262"/><rect x="861.19" y="431.12" width="2.2" height="21.14" fill="#36ad9f"/><rect x="861.19" y="452.26" width="2.2" height="4.70" fill="#eed24a"/><rect x="861.19" y="425.33" width="2.2" height="1.3" fill="#7d7d86" opacity="0.8"/><rect x="861.19" y="455.95" width="2.2" height="1.3" fill="#7d7d86" opacity="0.8"/><rect x="872.05" y="424.85" width="2.2" height="2.35" fill="#1f1c52"/><rect x="872.05" y="415.19" width="2.2" height="9.66" fill="#aeaad8"/><rect x="872.05" y="427.20" width="2.2" height="3.92" fill="#36ad9f"/><rect x="872.05" y="414.89" width="2.2" height="1.3" fill="#7d7d86" opacity="0.8"/><rect x="872.05" y="430.12" width="2.2" height="1.3" fill="#7d7d86" opacity="0.8"/><rect x="875.67" y="419.11" width="2.2" height="8.09" fill="#1f1c52"/><rect x="875.67" y="412.32" width="2.2" height="6.79" fill="#cf4262"/><rect x="875.67" y="408.41" width="2.2" height="3.91" fill="#eed24a"/><rect x="875.67" y="427.20" width="2.2" height="8.09" fill="#36ad9f"/><rect x="875.67" y="408.11" width="2.2" height="1.3" fill="#7d7d86" opacity="0.8"/><rect x="875.67" y="434.29" width="2.2" height="1.3" fill="#7d7d86" opacity="0.8"/><rect x="879.29" y="427.20" width="2.2" height="3.92" fill="#cf4262"/><rect x="879.29" y="431.12" width="2.2" height="17.75" fill="#36ad9f"/><rect x="879.29" y="447.86" width="2.2" height="1.3" fill="#7d7d86" opacity="0.8"/><rect x="882.92" y="427.20" width="2.2" height="3.92" fill="#cf4262"/><rect x="882.92" y="431.12" width="2.2" height="1.83" fill="#36ad9f"/><rect x="882.92" y="431.94" width="2.2" height="1.3" fill="#7d7d86" opacity="0.8"/><rect x="886.54" y="422.76" width="2.2" height="4.44" fill="#1f1c52"/><rect x="886.54" y="406.58" width="2.2" height="16.18" fill="#cf4262"/><rect x="886.54" y="399.01" width="2.2" height="7.57" fill="#e06870"/><rect x="886.54" y="427.20" width="2.2" height="19.31" fill="#36ad9f"/><rect x="886.54" y="398.71" width="2.2" height="1.3" fill="#7d7d86" opacity="0.8"/><rect x="886.54" y="445.51" width="2.2" height="1.3" fill="#7d7d86" opacity="0.8"/><rect x="897.40" y="402.93" width="2.2" height="24.27" fill="#1f1c52"/><rect x="897.40" y="427.20" width="2.2" height="8.09" fill="#36ad9f"/><rect x="897.40" y="402.63" width="2.2" height="1.3" fill="#7d7d86" opacity="0.8"/><rect x="897.40" y="434.29" width="2.2" height="1.3" fill="#7d7d86" opacity="0.8"/><rect x="901.02" y="413.37" width="2.2" height="13.83" fill="#1f1c52"/><rect x="901.02" y="399.79" width="2.2" height="13.57" fill="#aeaad8"/><rect x="901.02" y="427.20" width="2.2" height="2.35" fill="#36ad9f"/><rect x="901.02" y="399.49" width="2.2" height="1.3" fill="#7d7d86" opacity="0.8"/><rect x="901.02" y="428.55" width="2.2" height="1.3" fill="#7d7d86" opacity="0.8"/><rect x="904.64" y="422.76" width="2.2" height="4.44" fill="#1f1c52"/><rect x="904.64" y="419.11" width="2.2" height="3.65" fill="#eed24a"/><rect x="904.64" y="418.81" width="2.2" height="1.3" fill="#7d7d86" opacity="0.8"/><rect x="908.26" y="407.62" width="2.2" height="19.57" fill="#1f1c52"/><rect x="908.26" y="401.88" width="2.2" height="5.74" fill="#aeaad8"/><rect x="908.26" y="427.20" width="2.2" height="8.87" fill="#36ad9f"/><rect x="908.26" y="401.58" width="2.2" height="1.3" fill="#7d7d86" opacity="0.8"/><rect x="908.26" y="435.07" width="2.2" height="1.3" fill="#7d7d86" opacity="0.8"/><rect x="911.88" y="404.75" width="2.2" height="22.45" fill="#1f1c52"/><rect x="911.88" y="387.53" width="2.2" height="17.23" fill="#cf4262"/><rect x="911.88" y="374.22" width="2.2" height="13.31" fill="#eed24a"/><rect x="911.88" y="366.65" width="2.2" height="7.57" fill="#6b9ad6"/><rect x="911.88" y="427.20" width="2.2" height="8.87" fill="#36ad9f"/><rect x="911.88" y="366.35" width="2.2" height="1.3" fill="#7d7d86" opacity="0.8"/><rect x="911.88" y="435.07" width="2.2" height="1.3" fill="#7d7d86" opacity="0.8"/><rect x="922.75" y="368.47" width="2.2" height="58.73" fill="#1f1c52"/><rect x="922.75" y="427.20" width="2.2" height="7.31" fill="#eed24a"/><rect x="922.75" y="368.17" width="2.2" height="1.3" fill="#7d7d86" opacity="0.8"/><rect x="922.75" y="433.51" width="2.2" height="1.3" fill="#7d7d86" opacity="0.8"/><rect x="926.37" y="427.20" width="2.2" height="31.32" fill="#aeaad8"/><rect x="926.37" y="457.52" width="2.2" height="1.3" fill="#7d7d86" opacity="0.8"/><rect x="929.99" y="427.20" width="2.2" height="23.49" fill="#aeaad8"/><rect x="929.99" y="450.69" width="2.2" height="1.31" fill="#6b9ad6"/><rect x="929.99" y="451.00" width="2.2" height="1.3" fill="#7d7d86" opacity="0.8"/><rect x="933.61" y="427.20" width="2.2" height="14.36" fill="#cf4262"/><rect x="933.61" y="441.56" width="2.2" height="4.96" fill="#36ad9f"/><rect x="933.61" y="445.51" width="2.2" height="1.3" fill="#7d7d86" opacity="0.8"/><rect x="937.23" y="427.20" width="2.2" height="18.53" fill="#36ad9f"/><rect x="937.23" y="445.73" width="2.2" height="20.62" fill="#aeaad8"/><rect x="937.23" y="466.35" width="2.2" height="5.22" fill="#eed24a"/><rect x="937.23" y="470.57" width="2.2" height="1.3" fill="#7d7d86" opacity="0.8"/><rect x="951.72" y="427.20" width="2.2" height="42.80" fill="#cf4262"/><rect x="951.72" y="470.00" width="2.2" height="20.62" fill="#36ad9f"/><rect x="951.72" y="490.62" width="2.2" height="5.74" fill="#eed24a"/><rect x="951.72" y="496.37" width="2.2" height="2.35" fill="#6b9ad6"/><rect x="951.72" y="497.71" width="2.2" height="1.3" fill="#7d7d86" opacity="0.8"/><rect x="955.34" y="427.20" width="2.2" height="10.44" fill="#36ad9f"/><rect x="955.34" y="436.64" width="2.2" height="1.3" fill="#7d7d86" opacity="0.8"/><rect x="958.96" y="427.20" width="2.2" height="37.84" fill="#cf4262"/><rect x="958.96" y="465.04" width="2.2" height="6.53" fill="#36ad9f"/><rect x="958.96" y="471.57" width="2.2" height="7.05" fill="#eed24a"/><rect x="958.96" y="477.62" width="2.2" height="1.3" fill="#7d7d86" opacity="0.8"/><rect x="962.58" y="427.20" width="2.2" height="21.66" fill="#cf4262"/><rect x="962.58" y="448.86" width="2.2" height="17.75" fill="#36ad9f"/><rect x="962.58" y="466.61" width="2.2" height="2.35" fill="#eed24a"/><rect x="962.58" y="467.96" width="2.2" height="1.3" fill="#7d7d86" opacity="0.8"/><rect x="973.44" y="420.15" width="2.2" height="7.05" fill="#cf4262"/><rect x="973.44" y="411.54" width="2.2" height="8.61" fill="#eed24a"/><rect x="973.44" y="427.20" width="2.2" height="8.09" fill="#36ad9f"/><rect x="973.44" y="411.24" width="2.2" height="1.3" fill="#7d7d86" opacity="0.8"/><rect x="973.44" y="434.29" width="2.2" height="1.3" fill="#7d7d86" opacity="0.8"/><rect x="977.06" y="409.71" width="2.2" height="17.49" fill="#cf4262"/><rect x="977.06" y="427.20" width="2.2" height="13.57" fill="#aeaad8"/><rect x="977.06" y="409.41" width="2.2" height="1.3" fill="#7d7d86" opacity="0.8"/><rect x="977.06" y="439.77" width="2.2" height="1.3" fill="#7d7d86" opacity="0.8"/><rect x="980.68" y="424.85" width="2.2" height="2.35" fill="#cf4262"/><rect x="980.68" y="424.55" width="2.2" height="1.3" fill="#7d7d86" opacity="0.8"/><rect x="984.30" y="419.89" width="2.2" height="7.31" fill="#cf4262"/><rect x="984.30" y="418.33" width="2.2" height="1.57" fill="#aeaad8"/><rect x="984.30" y="418.03" width="2.2" height="1.3" fill="#7d7d86" opacity="0.8"/><rect x="987.93" y="400.06" width="2.2" height="27.14" fill="#cf4262"/><rect x="987.93" y="370.82" width="2.2" height="29.23" fill="#aeaad8"/><rect x="987.93" y="364.56" width="2.2" height="6.26" fill="#eed24a"/><rect x="987.93" y="360.38" width="2.2" height="4.18" fill="#6b9ad6"/><rect x="987.93" y="360.08" width="2.2" height="1.3" fill="#7d7d86" opacity="0.8"/><rect x="998.79" y="421.98" width="2.2" height="5.22" fill="#1f1c52"/><rect x="998.79" y="427.20" width="2.2" height="5.74" fill="#36ad9f"/><rect x="998.79" y="421.68" width="2.2" height="1.3" fill="#7d7d86" opacity="0.8"/><rect x="998.79" y="431.94" width="2.2" height="1.3" fill="#7d7d86" opacity="0.8"/><rect x="1002.41" y="412.32" width="2.2" height="14.88" fill="#cf4262"/><rect x="1002.41" y="393.53" width="2.2" height="18.79" fill="#eed24a"/><rect x="1002.41" y="383.87" width="2.2" height="9.66" fill="#38adbd"/><rect x="1002.41" y="379.18" width="2.2" height="4.70" fill="#6b9ad6"/><rect x="1002.41" y="378.88" width="2.2" height="1.3" fill="#7d7d86" opacity="0.8"/><rect x="1006.03" y="427.20" width="2.2" height="12.79" fill="#aeaad8"/><rect x="1006.03" y="438.99" width="2.2" height="1.3" fill="#7d7d86" opacity="0.8"/><rect x="1009.65" y="414.15" width="2.2" height="13.05" fill="#cf4262"/><rect x="1009.65" y="389.62" width="2.2" height="24.53" fill="#aeaad8"/><rect x="1009.65" y="388.57" width="2.2" height="1.04" fill="#6b9ad6"/><rect x="1009.65" y="388.27" width="2.2" height="1.3" fill="#7d7d86" opacity="0.8"/><rect x="1013.27" y="420.15" width="2.2" height="7.05" fill="#cf4262"/><rect x="1013.27" y="411.54" width="2.2" height="8.61" fill="#eed24a"/><rect x="1013.27" y="407.62" width="2.2" height="3.91" fill="#6b9ad6"/><rect x="1013.27" y="407.32" width="2.2" height="1.3" fill="#7d7d86" opacity="0.8"/><rect x="1024.13" y="424.85" width="2.2" height="2.35" fill="#1f1c52"/><rect x="1024.13" y="418.33" width="2.2" height="6.53" fill="#cf4262"/><rect x="1024.13" y="427.20" width="2.2" height="9.66" fill="#36ad9f"/><rect x="1024.13" y="418.03" width="2.2" height="1.3" fill="#7d7d86" opacity="0.8"/><rect x="1024.13" y="435.86" width="2.2" height="1.3" fill="#7d7d86" opacity="0.8"/><rect x="1027.76" y="400.84" width="2.2" height="26.36" fill="#1f1c52"/><rect x="1027.76" y="396.92" width="2.2" height="3.92" fill="#cf4262"/><rect x="1027.76" y="393.27" width="2.2" height="3.65" fill="#eed24a"/><rect x="1027.76" y="392.97" width="2.2" height="1.3" fill="#7d7d86" opacity="0.8"/><rect x="1031.38" y="379.70" width="2.2" height="47.50" fill="#1f1c52"/><rect x="1031.38" y="427.20" width="2.2" height="7.31" fill="#cf4262"/><rect x="1031.38" y="434.51" width="2.2" height="13.57" fill="#aeaad8"/><rect x="1031.38" y="379.40" width="2.2" height="1.3" fill="#7d7d86" opacity="0.8"/><rect x="1031.38" y="447.08" width="2.2" height="1.3" fill="#7d7d86" opacity="0.8"/><rect x="1035.00" y="403.97" width="2.2" height="23.23" fill="#1f1c52"/><rect x="1035.00" y="384.13" width="2.2" height="19.84" fill="#cf4262"/><rect x="1035.00" y="354.12" width="2.2" height="30.01" fill="#aeaad8"/><rect x="1035.00" y="339.76" width="2.2" height="14.36" fill="#eed24a"/><rect x="1035.00" y="331.41" width="2.2" height="8.35" fill="#38adbd"/><rect x="1035.00" y="331.11" width="2.2" height="1.3" fill="#7d7d86" opacity="0.8"/><rect x="1038.62" y="399.01" width="2.2" height="28.19" fill="#1f1c52"/><rect x="1038.62" y="367.43" width="2.2" height="31.58" fill="#cf4262"/><rect x="1038.62" y="359.86" width="2.2" height="7.57" fill="#36ad9f"/><rect x="1038.62" y="308.44" width="2.2" height="51.42" fill="#aeaad8"/><rect x="1038.62" y="304.53" width="2.2" height="3.92" fill="#eed24a"/><rect x="1038.62" y="299.83" width="2.2" height="4.70" fill="#6b9ad6"/><rect x="1038.62" y="299.53" width="2.2" height="1.3" fill="#7d7d86" opacity="0.8"/><rect x="1053.10" y="417.02" width="2.2" height="10.18" fill="#1f1c52"/><rect x="1053.10" y="427.20" width="2.2" height="37.06" fill="#cf4262"/><rect x="1053.10" y="464.26" width="2.2" height="23.23" fill="#aeaad8"/><rect x="1053.10" y="487.49" width="2.2" height="8.09" fill="#eed24a"/><rect x="1053.10" y="495.58" width="2.2" height="5.74" fill="#38adbd"/><rect x="1053.10" y="416.72" width="2.2" height="1.3" fill="#7d7d86" opacity="0.8"/><rect x="1053.10" y="500.32" width="2.2" height="1.3" fill="#7d7d86" opacity="0.8"/><rect x="1056.72" y="421.98" width="2.2" height="5.22" fill="#cf4262"/><rect x="1056.72" y="427.20" width="2.2" height="3.92" fill="#1f1c52"/><rect x="1056.72" y="431.12" width="2.2" height="10.44" fill="#36ad9f"/><rect x="1056.72" y="441.56" width="2.2" height="10.96" fill="#aeaad8"/><rect x="1056.72" y="421.68" width="2.2" height="1.3" fill="#7d7d86" opacity="0.8"/><rect x="1056.72" y="451.52" width="2.2" height="1.3" fill="#7d7d86" opacity="0.8"/><rect x="1060.35" y="417.54" width="2.2" height="9.66" fill="#1f1c52"/><rect x="1060.35" y="427.20" width="2.2" height="24.53" fill="#aeaad8"/><rect x="1060.35" y="417.24" width="2.2" height="1.3" fill="#7d7d86" opacity="0.8"/><rect x="1060.35" y="450.73" width="2.2" height="1.3" fill="#7d7d86" opacity="0.8"/><rect x="1063.97" y="418.06" width="2.2" height="9.13" fill="#e06870"/><rect x="1063.97" y="416.24" width="2.2" height="1.83" fill="#6aae84"/><rect x="1063.97" y="427.20" width="2.2" height="3.39" fill="#cf4262"/><rect x="1063.97" y="415.94" width="2.2" height="1.3" fill="#7d7d86" opacity="0.8"/><rect x="1063.97" y="429.59" width="2.2" height="1.3" fill="#7d7d86" opacity="0.8"/><rect x="1074.83" y="402.93" width="2.2" height="24.27" fill="#1f1c52"/><rect x="1074.83" y="375.26" width="2.2" height="27.67" fill="#cf4262"/><rect x="1074.83" y="366.65" width="2.2" height="8.61" fill="#6b9ad6"/><rect x="1074.83" y="366.35" width="2.2" height="1.3" fill="#7d7d86" opacity="0.8"/><rect x="1078.45" y="417.02" width="2.2" height="10.18" fill="#1f1c52"/><rect x="1078.45" y="427.20" width="2.2" height="14.36" fill="#cf4262"/><rect x="1078.45" y="416.72" width="2.2" height="1.3" fill="#7d7d86" opacity="0.8"/><rect x="1078.45" y="440.56" width="2.2" height="1.3" fill="#7d7d86" opacity="0.8"/><rect x="1082.07" y="424.85" width="2.2" height="2.35" fill="#1f1c52"/><rect x="1082.07" y="427.20" width="2.2" height="13.57" fill="#cf4262"/><rect x="1082.07" y="424.55" width="2.2" height="1.3" fill="#7d7d86" opacity="0.8"/><rect x="1082.07" y="439.77" width="2.2" height="1.3" fill="#7d7d86" opacity="0.8"/><rect x="1085.69" y="426.68" width="2.2" height="0.52" fill="#1f1c52"/><rect x="1085.69" y="427.20" width="2.2" height="20.10" fill="#cf4262"/><rect x="1085.69" y="446.30" width="2.2" height="1.3" fill="#7d7d86" opacity="0.8"/><rect x="1089.31" y="397.97" width="2.2" height="29.23" fill="#cf4262"/><rect x="1089.31" y="359.34" width="2.2" height="38.63" fill="#aeaad8"/><rect x="1089.31" y="355.16" width="2.2" height="4.18" fill="#6b9ad6"/><rect x="1089.31" y="427.20" width="2.2" height="4.70" fill="#36ad9f"/><rect x="1089.31" y="354.86" width="2.2" height="1.3" fill="#7d7d86" opacity="0.8"/><rect x="1089.31" y="430.90" width="2.2" height="1.3" fill="#7d7d86" opacity="0.8"/><rect x="1100.18" y="407.62" width="2.2" height="19.57" fill="#1f1c52"/><rect x="1100.18" y="344.72" width="2.2" height="62.90" fill="#cf4262"/><rect x="1100.18" y="336.11" width="2.2" height="8.61" fill="#36ad9f"/><rect x="1100.18" y="316.01" width="2.2" height="20.10" fill="#aeaad8"/><rect x="1100.18" y="290.17" width="2.2" height="25.84" fill="#eed24a"/><rect x="1100.18" y="284.95" width="2.2" height="5.22" fill="#6b9ad6"/><rect x="1100.18" y="284.65" width="2.2" height="1.3" fill="#7d7d86" opacity="0.8"/><rect x="1103.80" y="352.03" width="2.2" height="75.17" fill="#1f1c52"/><rect x="1103.80" y="341.85" width="2.2" height="10.18" fill="#cf4262"/><rect x="1103.80" y="334.54" width="2.2" height="7.31" fill="#36ad9f"/><rect x="1103.80" y="334.24" width="2.2" height="1.3" fill="#7d7d86" opacity="0.8"/><rect x="1107.42" y="325.15" width="2.2" height="102.05" fill="#1f1c52"/><rect x="1107.42" y="316.01" width="2.2" height="9.13" fill="#cf4262"/><rect x="1107.42" y="307.92" width="2.2" height="8.09" fill="#6b9ad6"/><rect x="1107.42" y="307.62" width="2.2" height="1.3" fill="#7d7d86" opacity="0.8"/><rect x="1111.04" y="345.77" width="2.2" height="81.43" fill="#1f1c52"/><rect x="1111.04" y="330.89" width="2.2" height="14.88" fill="#36ad9f"/><rect x="1111.04" y="304.79" width="2.2" height="26.10" fill="#aeaad8"/><rect x="1111.04" y="304.49" width="2.2" height="1.3" fill="#7d7d86" opacity="0.8"/><rect x="1114.66" y="409.45" width="2.2" height="17.75" fill="#1f1c52"/><rect x="1114.66" y="404.75" width="2.2" height="4.70" fill="#cf4262"/><rect x="1114.66" y="369.78" width="2.2" height="34.97" fill="#aeaad8"/><rect x="1114.66" y="361.95" width="2.2" height="7.83" fill="#eed24a"/><rect x="1114.66" y="355.69" width="2.2" height="6.26" fill="#6b9ad6"/><rect x="1114.66" y="355.39" width="2.2" height="1.3" fill="#7d7d86" opacity="0.8"/><rect x="1125.52" y="340.03" width="2.2" height="87.17" fill="#1f1c52"/><rect x="1125.52" y="427.20" width="2.2" height="8.87" fill="#eed24a"/><rect x="1125.52" y="339.73" width="2.2" height="1.3" fill="#7d7d86" opacity="0.8"/><rect x="1125.52" y="435.07" width="2.2" height="1.3" fill="#7d7d86" opacity="0.8"/><rect x="1129.14" y="414.15" width="2.2" height="13.05" fill="#1f1c52"/><rect x="1129.14" y="427.20" width="2.2" height="33.67" fill="#aeaad8"/><rect x="1129.14" y="413.85" width="2.2" height="1.3" fill="#7d7d86" opacity="0.8"/><rect x="1129.14" y="459.87" width="2.2" height="1.3" fill="#7d7d86" opacity="0.8"/><rect x="1132.77" y="344.20" width="2.2" height="83.00" fill="#1f1c52"/><rect x="1132.77" y="427.20" width="2.2" height="32.89" fill="#aeaad8"/><rect x="1132.77" y="343.90" width="2.2" height="1.3" fill="#7d7d86" opacity="0.8"/><rect x="1132.77" y="459.09" width="2.2" height="1.3" fill="#7d7d86" opacity="0.8"/><rect x="1136.39" y="383.87" width="2.2" height="43.33" fill="#1f1c52"/><rect x="1136.39" y="376.04" width="2.2" height="7.83" fill="#eed24a"/><rect x="1136.39" y="375.74" width="2.2" height="1.3" fill="#7d7d86" opacity="0.8"/><rect x="1140.01" y="351.51" width="2.2" height="75.69" fill="#1f1c52"/><rect x="1140.01" y="335.85" width="2.2" height="15.66" fill="#cf4262"/><rect x="1140.01" y="324.63" width="2.2" height="11.22" fill="#aeaad8"/><rect x="1140.01" y="324.33" width="2.2" height="1.3" fill="#7d7d86" opacity="0.8"/><rect x="1150.87" y="344.99" width="2.2" height="82.21" fill="#1f1c52"/><rect x="1150.87" y="334.02" width="2.2" height="10.96" fill="#cf4262"/><rect x="1150.87" y="314.97" width="2.2" height="19.05" fill="#aeaad8"/><rect x="1150.87" y="307.66" width="2.2" height="7.31" fill="#eed24a"/><rect x="1150.87" y="307.36" width="2.2" height="1.3" fill="#7d7d86" opacity="0.8"/><rect x="1154.49" y="259.90" width="2.2" height="167.30" fill="#1f1c52"/><rect x="1154.49" y="223.88" width="2.2" height="36.02" fill="#cf4262"/><rect x="1154.49" y="208.48" width="2.2" height="15.40" fill="#eed24a"/><rect x="1154.49" y="203.78" width="2.2" height="4.70" fill="#38adbd"/><rect x="1154.49" y="203.48" width="2.2" height="1.3" fill="#7d7d86" opacity="0.8"/><rect x="1158.11" y="197.26" width="2.2" height="229.94" fill="#1f1c52"/><rect x="1158.11" y="190.73" width="2.2" height="6.53" fill="#6b9ad6"/><rect x="1158.11" y="190.43" width="2.2" height="1.3" fill="#7d7d86" opacity="0.8"/><rect x="1161.73" y="344.20" width="2.2" height="83.00" fill="#1f1c52"/><rect x="1161.73" y="427.20" width="2.2" height="20.88" fill="#cf4262"/><rect x="1161.73" y="448.08" width="2.2" height="8.09" fill="#36ad9f"/><rect x="1161.73" y="456.17" width="2.2" height="24.01" fill="#aeaad8"/><rect x="1161.73" y="480.18" width="2.2" height="18.53" fill="#eed24a"/><rect x="1161.73" y="498.71" width="2.2" height="2.61" fill="#38adbd"/><rect x="1161.73" y="343.90" width="2.2" height="1.3" fill="#7d7d86" opacity="0.8"/><rect x="1161.73" y="500.32" width="2.2" height="1.3" fill="#7d7d86" opacity="0.8"/><rect x="100" y="426.70" width="1064" height="1" fill="#8c8c8c"/><rect x="98.6" y="113.50" width="1.6" height="523.00" fill="#5a5a5a"/>
</svg>
<div class="yl" style="top:107.0px">$1,200</div><div class="yl" style="top:133.1px">$1,100</div><div class="yl" style="top:159.2px">$1,000</div><div class="yl" style="top:185.3px">$900</div><div class="yl" style="top:211.4px">$800</div><div class="yl" style="top:237.5px">$700</div><div class="yl" style="top:263.6px">$600</div><div class="yl" style="top:289.7px">$500</div><div class="yl" style="top:315.8px">$400</div><div class="yl" style="top:341.9px">$300</div><div class="yl" style="top:368.0px">$200</div><div class="yl" style="top:394.1px">$100</div><div class="yl" style="top:420.2px">$0</div><div class="yl" style="top:446.3px">-$100</div><div class="yl" style="top:472.4px">-$200</div><div class="yl" style="top:498.5px">-$300</div><div class="yl" style="top:524.6px">-$400</div><div class="yl" style="top:550.7px">-$500</div><div class="yl" style="top:576.8px">-$600</div><div class="yl" style="top:602.9px">-$700</div><div class="yl" style="top:629.0px">-$800</div>
<div class="xl" style="left:133.6px">2/1/2024</div><div class="xl" style="left:238.6px">3/1/2024</div><div class="xl" style="left:350.9px">4/1/2024</div><div class="xl" style="left:459.5px">5/1/2024</div><div class="xl" style="left:571.7px">6/1/2024</div><div class="xl" style="left:680.4px">7/1/2024</div><div class="xl" style="left:792.6px">8/1/2024</div><div class="xl" style="left:904.9px">9/1/2024</div><div class="xl" style="left:1013.5px">10/1/2024</div>
<div class="ytitle">Flows (million USD)</div>
</body></html>
